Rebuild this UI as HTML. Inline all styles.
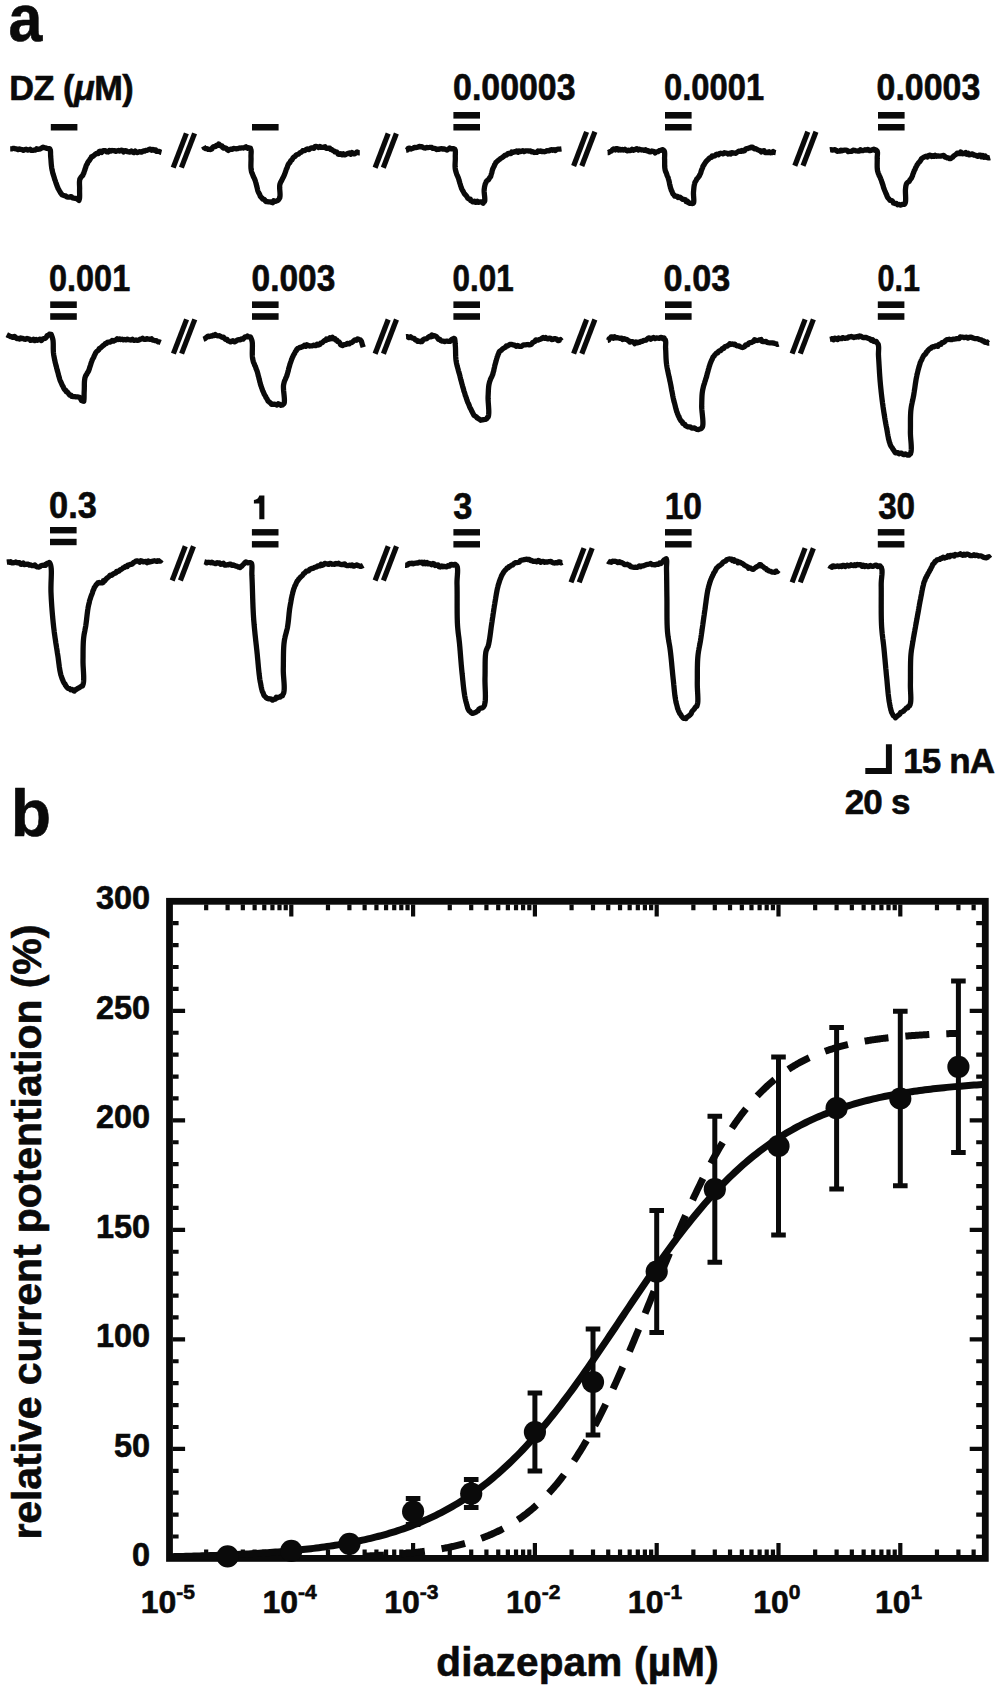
<!DOCTYPE html><html><head><meta charset="utf-8"><style>html,body{margin:0;padding:0;background:#fff;}svg{display:block;}text{font-family:"Liberation Sans",sans-serif;font-weight:bold;fill:#0a0a0a;stroke:#0a0a0a;stroke-width:0.6px;stroke-linejoin:round;}</style></head><body>
<svg width="1000" height="1691" viewBox="0 0 1000 1691">
<rect width="1000" height="1691" fill="#fff"/>
<text x="8.53" y="40.80" font-size="66" textLength="33.84" lengthAdjust="spacingAndGlyphs">a</text>
<text x="10.67" y="835.74" font-size="66">b</text>
<text x="9.17" y="99.56" font-size="34.3" textLength="124.48" lengthAdjust="spacing">DZ (<tspan font-style="italic">μ</tspan>M)</text>
<text x="453.08" y="100.06" font-size="36" textLength="122.49" lengthAdjust="spacingAndGlyphs">0.00003</text>
<text x="664.10" y="100.06" font-size="36" textLength="100.03" lengthAdjust="spacingAndGlyphs">0.0001</text>
<text x="876.62" y="100.06" font-size="36" textLength="103.63" lengthAdjust="spacingAndGlyphs">0.0003</text>
<text x="49.08" y="291.40" font-size="36" textLength="81.09" lengthAdjust="spacingAndGlyphs">0.001</text>
<text x="251.58" y="291.40" font-size="36" textLength="83.79" lengthAdjust="spacingAndGlyphs">0.003</text>
<text x="452.58" y="291.40" font-size="36" textLength="61.08" lengthAdjust="spacingAndGlyphs">0.01</text>
<text x="663.62" y="291.40" font-size="36" textLength="66.66" lengthAdjust="spacingAndGlyphs">0.03</text>
<text x="877.50" y="291.40" font-size="36" textLength="42.49" lengthAdjust="spacingAndGlyphs">0.1</text>
<text x="49.08" y="518.42" font-size="36" textLength="47.80" lengthAdjust="spacingAndGlyphs">0.3</text>
<path d="M264.4 495.6 L264.4 519.3 L259.3 519.3 L259.3 503.6 L253.9 503.6 L253.9 499.9 C256.6 499.8 258.6 498.4 259.3 495.6 Z" fill="#0a0a0a"/>
<text x="453.17" y="518.60" font-size="36" textLength="19.13" lengthAdjust="spacingAndGlyphs">3</text>
<text x="664.69" y="518.60" font-size="36" textLength="37.35" lengthAdjust="spacingAndGlyphs">10</text>
<text x="878.13" y="518.60" font-size="36" textLength="36.99" lengthAdjust="spacingAndGlyphs">30</text>
<text x="903.26" y="772.65" font-size="35" textLength="91.89" lengthAdjust="spacing">15 nA</text>
<text x="844.75" y="814.17" font-size="35" textLength="65.60" lengthAdjust="spacing">20 s</text>
<text x="436.34" y="1676.45" font-size="40.5" textLength="282.39" lengthAdjust="spacing">diazepam (µM)</text>
<path d="M10.20 148.92 L11.47 148.90 L12.86 148.45 L14.22 148.32 L15.48 148.92 L16.83 148.88 L18.08 149.69 L19.48 148.96 L20.78 149.38 L22.09 149.65 L23.39 150.30 L24.76 149.63 L26.11 149.27 L27.43 150.15 L28.78 149.91 L30.10 149.24 L31.45 150.39 L32.77 150.45 L34.05 150.05 L35.44 150.05 L36.62 148.79 L38.11 149.23 L39.50 149.22 L40.71 148.58 L41.89 147.99 L43.01 147.16 L44.19 147.68 L45.77 147.95 L47.20 148.50 L48.32 148.69 L49.62 148.58 L49.99 149.41 L50.39 150.38 L50.51 151.58 L50.56 152.92 L50.58 154.32 L50.60 155.74 L50.70 157.10 L50.82 158.34 L50.93 159.61 L51.03 160.92 L51.12 162.26 L51.22 163.61 L51.35 164.97 L51.50 166.33 L51.66 167.68 L51.92 169.00 L52.14 170.21 L52.46 171.42 L52.69 172.67 L53.03 173.89 L53.43 175.10 L53.85 176.29 L54.20 177.49 L54.55 178.66 L54.85 179.82 L55.37 180.88 L55.74 182.22 L56.16 183.51 L56.64 184.76 L57.05 186.00 L57.61 187.16 L58.00 188.37 L58.66 189.42 L59.27 190.55 L59.94 191.66 L60.52 192.79 L61.31 193.73 L61.98 194.72 L63.04 195.18 L64.27 195.57 L65.55 195.90 L66.81 196.88 L68.25 197.16 L69.71 197.06 L71.18 196.55 L72.56 197.84 L73.98 198.14 L75.25 198.35 L76.27 198.32 L77.67 199.42 L78.92 200.35 L79.33 199.15 L79.52 198.26 L79.62 197.04 L79.64 195.58 L79.62 193.98 L79.59 192.36 L79.57 190.79 L79.60 189.40 L79.62 188.10 L79.59 186.75 L79.53 185.40 L79.48 184.05 L79.46 182.73 L79.51 181.46 L79.66 180.28 L79.82 179.17 L80.46 178.08 L81.08 177.07 L81.93 176.22 L82.78 175.32 L83.21 174.05 L83.82 173.10 L84.11 171.94 L84.52 170.77 L84.99 169.58 L85.30 168.32 L85.80 167.13 L86.09 165.88 L86.59 164.75 L87.38 163.65 L87.77 162.34 L88.63 161.29 L89.50 160.27 L90.09 159.08 L91.00 158.14 L91.50 156.79 L92.78 156.40 L93.72 155.62 L94.70 154.87 L95.63 153.98 L96.72 153.32 L98.24 153.56 L98.85 151.74 L100.07 151.25 L101.66 152.46 L102.66 150.92 L103.96 150.66 L105.30 150.74 L106.67 151.77 L108.02 152.01 L109.40 150.37 L110.80 151.09 L112.18 150.48 L113.40 150.73 L114.64 150.63 L115.91 151.38 L117.19 150.83 L118.48 150.51 L119.79 151.09 L121.10 150.26 L122.40 150.38 L123.68 151.99 L124.99 150.60 L126.26 150.91 L127.48 151.62 L128.74 151.86 L130.00 152.10 L131.40 150.89 L132.59 151.91 L133.80 152.57 L135.22 151.08 L136.36 152.29 L137.58 152.67 L138.80 151.81 L139.95 151.63 L141.12 152.17 L142.34 151.69 L143.41 150.95 L144.72 151.00 L145.83 150.46 L147.05 150.28 L148.15 149.83 L149.26 149.24 L150.50 149.24 L151.61 150.19 L152.99 149.41 L154.08 150.26 L155.60 149.84 L156.43 151.39 L157.90 151.29 L159.30 151.36 L160.39 152.16 L161.50 152.43" fill="none" stroke="#0a0a0a" stroke-width="5.3" stroke-linejoin="round" stroke-linecap="butt"/>
<path d="M203.40 146.24 L204.35 147.93 L205.56 148.51 L207.07 148.53 L208.12 149.33 L209.40 149.41 L210.55 149.51 L211.79 149.09 L212.49 147.58 L213.63 146.69 L215.40 146.67 L216.32 145.50 L217.67 145.50 L218.70 144.00 L219.80 145.00 L220.66 145.82 L222.02 145.93 L222.54 147.37 L223.60 148.14 L225.26 147.99 L226.33 148.46 L227.18 149.57 L228.34 150.46 L229.68 149.50 L230.95 149.14 L232.32 149.36 L233.57 148.49 L234.99 148.61 L236.42 148.77 L237.78 148.70 L239.06 148.12 L240.35 148.01 L241.73 147.80 L243.22 147.99 L244.60 147.47 L245.95 146.82 L247.32 148.19 L248.45 147.73 L249.36 148.07 L250.41 148.08 L250.62 149.16 L251.05 150.14 L251.17 151.37 L251.14 152.74 L251.06 154.20 L250.99 155.67 L251.00 157.10 L251.04 158.23 L251.04 159.42 L251.02 160.66 L250.98 161.93 L250.94 163.21 L250.91 164.51 L250.90 165.80 L250.92 167.08 L250.99 168.33 L251.13 169.54 L251.32 170.70 L251.56 171.92 L251.98 173.07 L252.48 174.17 L252.87 175.32 L253.32 176.43 L253.84 177.52 L254.43 178.59 L254.88 179.73 L255.30 180.90 L255.63 182.08 L256.00 183.28 L256.32 184.53 L256.61 185.80 L256.95 187.06 L257.26 188.31 L257.51 189.54 L257.81 190.72 L258.25 191.80 L258.73 192.79 L259.41 193.93 L259.91 195.10 L260.33 196.29 L261.12 197.22 L262.02 198.01 L262.66 199.08 L264.07 199.34 L264.96 200.35 L265.83 201.57 L267.27 201.67 L268.54 201.90 L269.74 201.79 L271.10 202.29 L272.72 202.73 L273.74 200.79 L275.50 201.44 L276.71 200.91 L278.01 200.26 L278.94 199.20 L279.71 197.96 L279.87 197.07 L280.01 196.05 L280.05 194.88 L280.02 193.58 L279.94 192.20 L279.83 190.78 L279.72 189.35 L279.66 187.95 L279.64 186.61 L279.71 185.39 L279.88 184.30 L280.31 183.03 L280.86 181.93 L281.45 180.89 L282.02 179.82 L282.51 178.64 L283.22 177.46 L283.65 176.46 L284.17 175.40 L284.64 174.27 L285.05 173.06 L285.48 171.84 L285.93 170.60 L286.27 169.32 L286.88 168.17 L287.35 166.98 L287.70 165.77 L288.21 164.69 L288.84 163.60 L289.83 162.76 L290.28 161.58 L290.91 160.54 L291.93 159.80 L292.55 158.75 L293.18 157.70 L294.08 156.88 L295.22 156.32 L295.96 155.20 L297.07 154.49 L298.46 154.20 L299.40 153.22 L300.47 152.39 L301.76 151.94 L302.67 150.75 L304.12 150.67 L305.35 150.19 L306.36 149.39 L307.49 148.83 L309.08 149.64 L310.09 148.67 L311.18 147.84 L312.56 148.19 L313.85 148.28 L314.80 146.69 L316.02 146.49 L317.24 146.57 L318.63 147.48 L319.87 146.41 L321.16 147.37 L322.41 147.35 L323.68 147.20 L325.02 146.79 L326.05 148.30 L327.37 148.28 L328.56 148.18 L329.82 148.25 L330.63 149.36 L331.89 149.68 L332.85 150.55 L334.12 150.93 L334.99 151.94 L336.46 151.85 L337.37 152.66 L338.08 154.08 L339.25 154.32 L340.74 153.61 L341.92 154.72 L343.25 153.79 L344.55 154.90 L345.82 154.47 L347.05 153.78 L348.29 153.37 L349.52 152.83 L350.96 154.24 L352.03 152.59 L353.52 153.74 L354.85 153.75 L356.00 152.83 L357.14 151.90 L358.64 152.85 L359.80 152.85" fill="none" stroke="#0a0a0a" stroke-width="5.3" stroke-linejoin="round" stroke-linecap="butt"/>
<path d="M406.00 150.32 L407.35 150.03 L408.24 148.27 L409.45 148.05 L410.94 149.03 L412.11 148.59 L413.28 148.21 L414.36 147.34 L415.66 147.62 L416.85 147.42 L418.04 147.22 L419.17 146.35 L420.40 146.78 L421.66 146.71 L422.89 147.36 L424.09 147.96 L425.34 148.03 L426.70 147.51 L427.98 147.55 L429.28 147.46 L430.58 147.28 L431.78 147.46 L432.85 148.39 L434.04 148.28 L435.37 148.54 L436.57 149.60 L437.93 149.10 L439.18 149.30 L440.48 148.85 L441.74 148.56 L442.95 149.16 L444.18 148.85 L445.54 149.42 L447.14 150.00 L448.51 149.12 L449.79 147.96 L451.38 148.92 L452.53 148.65 L453.49 148.60 L454.12 148.94 L454.87 149.38 L455.25 150.34 L455.39 151.54 L455.39 152.89 L455.34 154.31 L455.29 155.73 L455.30 157.10 L455.33 158.34 L455.31 159.63 L455.25 160.96 L455.18 162.32 L455.11 163.68 L455.07 165.05 L455.08 166.40 L455.15 167.72 L455.28 169.00 L455.53 170.34 L455.92 171.62 L456.32 172.91 L456.71 174.20 L457.23 175.44 L457.78 176.67 L458.31 177.91 L458.73 179.19 L459.08 180.50 L459.54 181.78 L459.82 183.13 L460.30 184.41 L460.60 185.74 L461.13 186.97 L461.46 188.27 L462.04 189.43 L462.71 190.62 L463.37 191.82 L464.00 193.02 L464.76 194.14 L465.67 195.10 L466.54 196.04 L467.19 197.11 L467.81 198.29 L468.95 198.91 L470.29 199.16 L470.78 200.59 L471.89 201.11 L472.88 201.91 L474.54 201.18 L475.76 202.36 L477.30 201.28 L478.61 202.41 L479.94 201.80 L481.59 201.97 L483.10 203.29 L483.93 201.81 L484.57 201.56 L484.77 200.61 L484.81 199.42 L484.75 198.05 L484.63 196.55 L484.46 195.00 L484.31 193.45 L484.18 191.95 L484.14 190.58 L484.19 189.40 L484.41 187.87 L484.62 186.44 L485.01 185.11 L485.27 183.79 L485.98 182.64 L486.35 181.33 L487.31 180.43 L488.59 179.84 L489.12 178.51 L489.98 177.43 L490.66 176.43 L491.03 175.19 L491.38 173.87 L491.85 172.55 L492.12 171.15 L492.48 169.78 L492.95 168.49 L493.53 167.32 L494.19 166.14 L494.61 164.83 L495.37 163.71 L495.94 162.49 L496.90 161.57 L497.90 160.75 L498.76 159.86 L499.87 159.15 L500.83 158.28 L502.01 157.72 L503.06 156.91 L504.12 155.99 L505.22 155.04 L506.52 155.12 L507.35 154.17 L508.31 153.38 L509.63 153.39 L511.01 153.59 L511.78 152.05 L513.20 152.40 L514.33 151.77 L515.60 151.73 L516.68 150.91 L517.97 152.26 L519.11 150.96 L520.34 151.59 L521.59 151.29 L522.88 150.62 L524.09 151.65 L525.40 150.97 L526.67 150.87 L527.94 150.86 L529.19 151.09 L530.43 150.95 L531.69 151.90 L532.94 151.65 L534.22 152.48 L535.49 152.36 L536.77 152.44 L538.01 151.03 L539.31 151.37 L540.58 150.97 L541.90 151.52 L543.21 151.50 L544.54 151.74 L545.72 151.49 L546.85 150.59 L548.07 150.78 L549.30 150.85 L550.42 149.80 L551.64 149.73 L552.93 150.26 L554.09 149.60 L555.44 150.55 L556.57 149.56 L557.76 149.18 L559.00 149.19 L560.23 149.15 L561.50 148.99" fill="none" stroke="#0a0a0a" stroke-width="5.3" stroke-linejoin="round" stroke-linecap="butt"/>
<path d="M607.60 152.53 L608.69 152.49 L609.61 151.68 L610.79 151.33 L611.84 150.77 L612.57 149.48 L613.73 148.87 L615.32 149.87 L616.21 148.73 L617.36 148.63 L618.47 150.04 L619.73 149.20 L620.89 149.98 L622.22 149.52 L623.45 149.99 L624.84 149.30 L626.00 150.30 L627.24 150.82 L628.50 150.24 L629.73 150.61 L630.94 150.40 L632.05 149.21 L633.39 150.31 L634.57 149.87 L635.72 149.21 L636.89 148.60 L638.23 149.98 L639.39 149.22 L640.59 149.65 L641.75 149.98 L642.97 149.81 L644.12 150.37 L645.56 149.78 L646.63 150.77 L648.04 150.55 L649.06 151.70 L650.32 151.96 L651.84 150.98 L652.97 151.26 L654.05 151.54 L655.14 152.94 L656.47 151.82 L657.98 151.71 L659.20 150.69 L660.65 150.46 L661.81 149.87 L662.91 149.67 L663.64 150.28 L664.24 150.95 L664.55 152.06 L664.69 153.45 L664.68 155.01 L664.62 156.64 L664.57 158.24 L664.60 159.70 L664.66 161.06 L664.67 162.42 L664.66 163.78 L664.65 165.15 L664.69 166.51 L664.79 167.86 L665.02 169.20 L665.24 170.41 L665.64 171.58 L666.13 172.72 L666.66 173.86 L666.96 175.11 L667.42 176.30 L668.07 177.44 L668.36 178.71 L668.75 179.94 L669.09 181.23 L669.36 182.57 L669.60 183.93 L669.87 185.28 L670.24 186.57 L670.51 187.85 L670.97 188.99 L671.24 190.12 L671.97 191.42 L672.41 192.78 L673.03 194.01 L674.06 194.89 L674.66 196.21 L676.08 196.24 L677.29 196.40 L678.15 197.58 L679.65 197.12 L680.75 197.80 L681.76 198.57 L682.80 199.41 L684.23 199.42 L685.43 199.85 L686.03 201.48 L687.52 201.25 L688.31 202.66 L689.64 203.25 L691.21 203.11 L692.25 203.51 L693.11 203.42 L693.56 202.86 L693.75 201.94 L693.83 200.76 L693.80 199.39 L693.71 197.88 L693.59 196.32 L693.49 194.77 L693.45 193.31 L693.50 192.00 L693.61 190.76 L693.72 189.52 L693.83 188.30 L693.96 187.09 L694.11 185.90 L694.34 184.73 L694.65 183.60 L694.89 182.46 L695.56 181.36 L696.22 180.29 L696.67 179.05 L697.72 178.21 L698.40 177.11 L699.22 176.09 L699.75 174.87 L700.37 173.79 L700.83 172.60 L701.12 171.33 L701.53 170.10 L702.06 168.90 L702.59 167.72 L702.92 166.47 L703.58 165.39 L704.31 164.36 L704.90 163.22 L705.67 162.19 L706.44 161.16 L707.31 160.22 L708.35 159.45 L709.09 158.39 L710.11 157.68 L711.42 157.43 L712.02 155.91 L713.51 156.06 L714.78 155.83 L715.77 154.76 L716.99 154.22 L718.52 154.81 L719.60 153.56 L720.73 153.25 L721.96 153.53 L723.19 153.91 L724.37 152.78 L725.63 153.15 L726.88 153.16 L728.15 154.04 L729.38 153.30 L730.66 153.99 L731.76 152.67 L732.96 152.82 L734.38 153.13 L735.82 153.26 L737.02 152.24 L738.26 151.55 L739.52 151.05 L740.96 151.37 L742.02 150.47 L743.48 151.05 L744.60 150.68 L745.44 149.22 L746.59 148.66 L747.98 148.57 L748.93 147.88 L750.16 147.94 L751.10 147.16 L752.25 147.03 L753.28 147.67 L754.11 148.84 L755.58 148.61 L756.72 149.25 L757.88 149.87 L759.09 150.36 L760.32 150.75 L761.35 151.91 L762.82 150.81 L764.08 150.69 L765.20 152.48 L766.52 152.46 L767.83 152.71 L769.19 151.76 L770.50 152.73 L771.83 152.71 L773.19 151.48 L774.47 152.47 L775.80 152.71" fill="none" stroke="#0a0a0a" stroke-width="5.3" stroke-linejoin="round" stroke-linecap="butt"/>
<path d="M829.90 149.82 L831.14 149.62 L832.35 150.19 L833.58 149.80 L834.80 149.69 L836.00 150.34 L837.18 151.32 L838.40 151.15 L839.62 151.13 L840.88 150.19 L842.08 150.79 L843.32 150.36 L844.54 150.19 L845.77 150.09 L847.00 150.29 L848.20 151.56 L849.42 151.37 L850.64 151.31 L851.88 151.27 L853.09 150.14 L854.34 150.31 L855.60 150.83 L856.85 150.97 L858.08 151.15 L859.29 151.15 L860.44 149.68 L861.65 150.57 L862.80 150.66 L863.91 150.33 L864.98 149.72 L866.47 150.18 L867.92 149.35 L869.63 150.64 L871.11 150.34 L872.47 149.64 L873.79 149.14 L874.85 150.29 L875.90 149.93 L876.46 150.53 L877.20 151.23 L877.49 152.39 L877.49 153.78 L877.36 155.29 L877.22 156.86 L877.20 158.40 L877.23 159.56 L877.23 160.78 L877.21 162.05 L877.19 163.36 L877.17 164.68 L877.17 166.01 L877.20 167.32 L877.27 168.59 L877.41 169.83 L877.56 171.01 L877.95 172.20 L878.31 173.36 L878.81 174.44 L879.19 175.58 L879.80 176.61 L880.29 177.71 L880.68 178.87 L881.24 179.99 L881.60 181.17 L881.94 182.39 L882.46 183.59 L882.85 184.84 L883.21 186.09 L883.51 187.35 L883.94 188.55 L884.42 189.68 L884.84 190.78 L885.42 192.10 L885.89 193.41 L886.56 194.60 L886.94 195.88 L887.49 197.08 L888.15 198.20 L889.20 199.22 L890.08 200.43 L891.83 200.56 L892.79 201.58 L893.49 203.07 L894.95 203.53 L896.50 203.51 L897.65 204.76 L899.16 204.50 L900.53 205.13 L902.15 204.46 L903.39 204.30 L904.56 204.25 L904.92 203.62 L905.32 202.75 L905.54 201.61 L905.63 200.28 L905.66 198.82 L905.63 197.28 L905.58 195.70 L905.51 194.13 L905.45 192.63 L905.41 191.24 L905.42 190.02 L905.51 189.00 L905.69 187.29 L905.88 185.88 L906.27 184.44 L906.84 183.27 L907.77 182.26 L909.09 181.54 L909.80 180.18 L910.70 178.97 L911.45 178.08 L911.89 176.94 L912.52 175.82 L912.79 174.51 L913.31 173.26 L913.82 172.00 L914.24 170.70 L914.94 169.54 L915.39 168.30 L915.90 167.18 L916.59 166.11 L917.08 164.91 L917.90 163.89 L918.51 162.75 L919.56 161.93 L920.30 160.95 L920.91 159.90 L921.42 158.74 L922.43 158.16 L923.56 157.38 L924.75 156.72 L926.03 156.27 L927.59 156.97 L928.68 155.47 L930.06 155.09 L931.68 156.46 L932.71 155.72 L933.94 156.42 L935.18 155.34 L936.49 156.25 L937.84 155.85 L939.16 156.17 L940.48 156.19 L941.80 155.87 L943.11 155.32 L944.22 155.71 L945.00 157.03 L945.77 157.18 L947.06 157.75 L948.50 157.85 L949.58 158.68 L950.69 158.60 L951.60 157.77 L952.77 157.13 L953.69 155.97 L954.94 155.15 L956.18 154.34 L957.16 153.12 L958.78 153.69 L959.73 153.65 L960.74 152.02 L961.83 153.66 L962.95 153.74 L964.20 153.38 L965.61 152.53 L966.57 154.23 L968.09 153.20 L969.05 154.89 L970.43 154.64 L971.88 153.84 L973.09 154.22 L974.14 155.21 L975.35 155.27 L976.50 155.76 L977.67 156.26 L979.08 155.22 L980.37 155.04 L981.34 156.83 L982.83 155.46 L983.83 157.16 L985.28 156.04 L986.32 157.44 L987.57 157.60 L988.77 157.96 L990.10 157.59" fill="none" stroke="#0a0a0a" stroke-width="5.3" stroke-linejoin="round" stroke-linecap="butt"/>
<path d="M6.80 334.72 L7.93 335.30 L9.15 335.83 L10.31 336.51 L11.66 336.67 L12.83 337.40 L14.56 336.44 L15.66 337.50 L16.83 338.64 L18.11 338.40 L19.23 339.06 L20.68 337.90 L21.83 338.71 L23.14 338.48 L24.34 339.15 L25.61 339.34 L26.97 338.46 L28.19 338.92 L29.42 339.13 L30.55 340.34 L31.93 340.18 L33.42 339.23 L34.71 340.49 L36.17 339.43 L37.49 340.35 L38.80 339.48 L40.02 339.20 L41.46 340.53 L42.34 339.18 L43.60 338.64 L45.38 338.34 L46.50 337.05 L47.26 335.52 L48.76 335.07 L49.41 334.09 L50.12 334.19 L51.23 334.32 L51.59 335.67 L52.21 337.10 L52.65 338.71 L52.89 339.66 L53.07 340.73 L53.16 341.89 L53.22 343.14 L53.25 344.44 L53.26 345.79 L53.26 347.18 L53.27 348.58 L53.30 349.97 L53.36 351.35 L53.45 352.70 L53.61 354.00 L53.76 355.19 L53.98 356.37 L54.20 357.56 L54.43 358.75 L54.66 359.95 L54.98 361.12 L55.17 362.33 L55.55 363.49 L55.77 364.68 L56.06 365.85 L56.45 366.99 L56.67 368.17 L57.02 369.30 L57.33 370.59 L57.73 371.87 L58.07 373.16 L58.41 374.46 L58.67 375.77 L59.14 377.01 L59.44 378.28 L59.80 379.51 L60.21 380.70 L60.77 381.79 L61.24 382.88 L61.74 384.11 L62.23 385.32 L63.04 386.34 L63.42 387.56 L64.02 388.64 L64.65 389.68 L65.79 390.30 L66.03 391.64 L67.42 392.03 L68.18 393.03 L68.96 394.05 L69.74 395.10 L71.16 395.19 L71.79 396.48 L73.07 396.56 L74.55 396.67 L75.97 396.94 L77.46 396.91 L78.91 397.06 L80.14 397.81 L80.83 399.23 L81.60 400.53 L82.88 401.05 L83.21 400.80 L83.78 401.26 L83.87 400.35 L84.00 399.16 L84.06 397.72 L84.09 396.12 L84.10 394.48 L84.13 392.87 L84.20 391.40 L84.26 390.22 L84.30 388.98 L84.32 387.69 L84.33 386.38 L84.34 385.06 L84.36 383.74 L84.40 382.45 L84.48 381.19 L84.60 379.99 L84.78 378.85 L84.95 377.79 L85.41 376.52 L85.84 375.34 L86.69 374.43 L87.10 373.27 L87.79 372.21 L88.54 371.06 L88.91 369.97 L89.34 368.83 L89.66 367.59 L90.08 366.35 L90.54 365.10 L90.92 363.81 L91.31 362.55 L91.77 361.34 L92.15 360.15 L92.67 359.09 L93.38 357.96 L93.91 356.82 L94.34 355.68 L94.86 354.59 L95.40 353.51 L95.94 352.38 L96.78 351.40 L97.82 350.71 L98.69 349.85 L99.25 348.63 L100.44 348.00 L101.40 347.12 L102.35 346.22 L103.36 345.40 L104.49 344.76 L105.31 343.65 L106.59 343.45 L107.39 342.36 L108.64 342.11 L109.94 342.04 L111.07 341.50 L112.07 340.49 L113.60 341.18 L114.73 340.38 L116.00 339.99 L117.16 338.76 L118.43 339.52 L119.56 338.88 L120.82 339.57 L122.06 339.16 L123.34 339.80 L124.64 339.52 L125.94 339.83 L127.30 339.08 L128.59 339.68 L129.89 339.91 L131.17 340.13 L132.46 339.32 L133.67 340.24 L134.87 340.29 L136.01 339.94 L137.51 340.36 L138.91 340.18 L140.16 339.24 L141.47 339.09 L142.67 338.28 L144.07 339.33 L145.32 339.43 L146.58 338.59 L147.87 339.04 L149.00 339.22 L150.13 339.44 L151.50 338.76 L152.41 340.06 L153.66 340.07 L154.79 340.56 L156.07 340.55 L157.14 341.24 L158.24 341.85 L159.47 341.99 L160.70 342.50" fill="none" stroke="#0a0a0a" stroke-width="5.3" stroke-linejoin="round" stroke-linecap="butt"/>
<path d="M203.40 339.23 L204.78 338.78 L205.82 337.82 L206.94 337.02 L208.03 336.14 L209.65 336.64 L210.76 335.91 L212.09 335.99 L213.08 335.06 L214.30 335.55 L215.31 334.59 L216.69 335.64 L218.02 335.79 L219.48 335.76 L220.72 336.49 L221.99 337.25 L223.48 337.17 L224.43 338.30 L225.46 339.33 L227.05 339.47 L227.92 340.82 L229.26 341.25 L230.49 341.89 L231.80 341.12 L232.93 340.67 L234.26 341.78 L235.51 341.55 L236.60 340.66 L237.68 339.77 L238.96 339.62 L240.32 339.92 L241.34 338.90 L243.03 339.12 L244.06 338.00 L245.06 336.86 L246.53 336.92 L247.47 336.08 L248.54 336.89 L249.07 336.80 L250.22 336.79 L250.85 337.76 L251.39 338.98 L251.86 340.41 L252.08 341.26 L252.26 342.23 L252.34 343.32 L252.39 344.51 L252.40 345.78 L252.39 347.10 L252.36 348.47 L252.33 349.87 L252.30 351.29 L252.28 352.70 L252.28 354.08 L252.32 355.43 L252.40 356.73 L252.52 357.96 L252.72 359.10 L253.03 360.40 L253.30 361.67 L253.73 362.86 L254.32 363.96 L254.61 365.17 L255.28 366.22 L255.69 367.39 L256.03 368.60 L256.55 369.77 L257.03 370.99 L257.36 372.11 L257.69 373.27 L258.04 374.45 L258.25 375.68 L258.66 376.87 L258.93 378.11 L259.20 379.35 L259.55 380.56 L259.80 381.79 L260.21 382.95 L260.44 384.13 L260.78 385.25 L261.17 386.31 L261.56 387.57 L262.08 388.76 L262.43 389.98 L262.88 391.13 L263.40 392.24 L263.89 393.33 L264.33 394.45 L264.96 395.45 L265.66 396.41 L266.04 397.66 L266.88 398.69 L267.48 399.88 L268.05 401.08 L269.11 401.86 L270.01 402.61 L270.79 403.31 L271.35 404.32 L272.70 404.34 L274.02 404.19 L275.45 404.40 L276.94 405.05 L278.21 403.76 L279.70 404.21 L281.09 405.31 L282.56 404.89 L283.44 403.98 L283.95 403.66 L284.21 402.92 L284.35 401.99 L284.42 400.91 L284.41 399.69 L284.35 398.36 L284.24 396.95 L284.11 395.48 L283.96 393.97 L283.80 392.46 L283.65 390.96 L283.54 389.51 L283.46 388.12 L283.43 386.82 L283.48 385.64 L283.62 384.60 L283.96 383.22 L284.25 381.96 L284.61 380.79 L285.19 379.74 L285.59 378.59 L286.11 377.40 L286.75 376.12 L286.97 375.04 L287.38 373.95 L287.66 372.77 L288.05 371.56 L288.37 370.30 L288.61 368.98 L288.97 367.68 L289.41 366.40 L289.73 365.09 L290.08 363.80 L290.53 362.57 L290.96 361.37 L291.34 360.19 L291.79 359.10 L292.26 357.78 L292.92 356.54 L293.44 355.24 L294.22 354.08 L294.86 352.88 L295.35 351.63 L296.28 350.71 L296.73 349.50 L297.50 348.58 L298.70 348.23 L299.64 347.36 L301.04 347.45 L302.07 346.69 L303.33 346.52 L304.41 345.30 L305.91 346.30 L306.99 344.78 L308.34 345.54 L309.58 346.00 L310.81 345.97 L312.08 345.95 L313.36 345.14 L314.69 345.50 L316.06 345.49 L317.14 344.12 L318.66 344.96 L319.83 344.33 L320.72 343.10 L322.16 342.78 L323.16 341.65 L324.26 340.70 L325.76 340.44 L326.49 338.99 L328.11 339.28 L329.26 339.09 L329.89 337.71 L330.93 338.69 L332.44 337.24 L333.38 338.85 L334.91 338.62 L335.68 340.10 L336.99 340.25 L337.62 341.49 L339.09 342.08 L340.02 343.16 L340.52 344.61 L341.65 345.27 L342.79 345.56 L343.82 344.68 L344.93 344.69 L346.24 344.49 L347.26 343.45 L349.14 343.88 L350.23 342.97 L351.56 342.74 L352.67 341.89 L353.77 340.80 L354.95 339.83 L356.63 340.24 L357.60 338.87 L358.85 339.48 L359.82 339.55 L360.65 340.29 L361.41 341.35 L361.87 342.76 L362.24 344.30 L362.77 345.79 L363.20 347.25" fill="none" stroke="#0a0a0a" stroke-width="5.3" stroke-linejoin="round" stroke-linecap="butt"/>
<path d="M406.00 336.68 L407.53 336.55 L408.89 337.57 L410.54 336.79 L411.88 337.95 L413.07 338.23 L414.39 338.65 L415.21 339.92 L416.66 340.25 L417.50 341.34 L418.76 341.25 L419.57 341.36 L420.77 341.73 L422.20 341.54 L422.85 340.00 L424.08 339.17 L425.59 338.85 L427.01 338.60 L428.04 337.43 L429.23 336.50 L430.88 336.76 L431.79 334.89 L433.14 336.24 L434.42 335.58 L435.63 336.09 L436.71 336.93 L437.65 337.99 L438.37 339.32 L439.90 339.47 L440.75 340.51 L442.00 341.08 L443.44 341.08 L444.70 341.70 L446.12 341.07 L447.29 341.12 L448.37 341.32 L449.90 341.45 L451.00 340.22 L452.11 339.10 L453.33 338.63 L454.12 338.33 L454.65 338.88 L454.85 339.86 L455.03 341.10 L455.12 342.52 L455.19 344.03 L455.30 345.50 L455.39 346.57 L455.47 347.72 L455.51 348.94 L455.55 350.21 L455.57 351.52 L455.59 352.85 L455.62 354.21 L455.67 355.56 L455.73 356.92 L455.82 358.25 L455.93 359.55 L456.09 360.80 L456.31 362.07 L456.52 363.31 L456.83 364.52 L457.09 365.74 L457.41 366.93 L457.74 368.13 L458.10 369.34 L458.40 370.58 L458.74 371.83 L459.15 373.09 L459.48 374.40 L459.83 375.48 L460.05 376.62 L460.35 377.77 L460.62 378.96 L460.94 380.14 L461.31 381.33 L461.62 382.55 L461.90 383.77 L462.30 384.97 L462.58 386.19 L462.94 387.38 L463.29 388.57 L463.63 389.73 L463.88 390.91 L464.31 392.00 L464.64 393.09 L465.02 394.32 L465.34 395.56 L465.88 396.71 L466.23 397.91 L466.62 399.08 L466.98 400.26 L467.41 401.38 L467.83 402.50 L468.40 403.53 L468.81 404.62 L469.28 405.66 L469.59 406.75 L470.16 408.07 L470.96 409.29 L471.54 410.59 L472.13 411.85 L472.76 413.03 L473.33 414.20 L473.98 415.25 L474.95 415.95 L476.22 416.69 L477.10 417.88 L478.35 418.51 L479.49 419.31 L480.68 420.29 L482.18 419.95 L483.70 419.59 L485.24 419.47 L486.65 418.91 L487.33 417.54 L488.13 417.21 L488.35 416.34 L488.56 415.38 L488.69 414.29 L488.77 413.10 L488.80 411.81 L488.78 410.45 L488.72 409.03 L488.63 407.57 L488.53 406.09 L488.42 404.60 L488.31 403.13 L488.21 401.68 L488.13 400.27 L488.08 398.93 L488.07 397.67 L488.10 396.50 L488.17 395.14 L488.23 393.79 L488.29 392.47 L488.35 391.18 L488.41 389.91 L488.49 388.67 L488.59 387.46 L488.72 386.27 L488.86 385.11 L489.09 384.00 L489.35 382.91 L489.67 381.58 L490.13 380.36 L490.52 379.16 L491.05 378.02 L491.66 376.90 L492.17 375.69 L492.76 374.42 L492.99 373.27 L493.30 372.09 L493.70 370.89 L493.94 369.61 L494.20 368.32 L494.51 367.02 L494.76 365.72 L495.10 364.44 L495.46 363.20 L495.79 361.98 L496.13 360.81 L496.46 359.55 L496.85 358.31 L497.19 357.07 L497.67 355.89 L498.04 354.70 L498.57 353.60 L498.96 352.47 L499.48 351.42 L500.48 350.75 L501.46 350.04 L502.32 349.19 L503.31 348.45 L504.39 347.82 L505.46 347.16 L506.30 345.93 L507.64 345.89 L508.74 345.26 L509.88 344.43 L511.20 344.30 L512.52 344.76 L513.83 344.79 L515.08 345.67 L516.36 346.25 L517.72 345.41 L519.01 346.29 L520.31 346.35 L521.62 346.28 L522.94 345.20 L524.25 344.92 L525.53 344.86 L526.77 344.69 L527.94 344.52 L529.27 344.89 L530.70 344.66 L531.81 343.79 L532.64 342.63 L533.82 341.96 L535.02 341.38 L535.73 339.86 L537.23 340.13 L538.55 340.03 L539.68 339.43 L540.89 339.01 L542.01 338.25 L543.18 337.49 L544.54 338.42 L545.71 337.57 L546.87 338.48 L548.01 338.93 L549.38 338.14 L550.60 338.39 L551.65 339.56 L552.94 339.39 L554.30 338.61 L555.54 338.73 L556.75 338.98 L557.74 340.48 L558.98 340.52 L560.39 339.59 L561.50 340.99" fill="none" stroke="#0a0a0a" stroke-width="5.3" stroke-linejoin="round" stroke-linecap="butt"/>
<path d="M607.60 340.41 L608.75 340.21 L609.08 338.76 L610.38 338.30 L611.17 336.89 L612.31 336.86 L613.45 338.16 L614.72 336.83 L615.92 337.77 L617.32 337.70 L618.71 337.99 L620.09 338.38 L621.58 338.19 L622.67 339.55 L624.16 338.63 L625.30 339.25 L626.63 339.38 L627.71 340.21 L628.84 340.89 L629.79 342.09 L631.29 341.72 L632.62 341.65 L633.75 342.15 L634.80 343.62 L636.09 342.01 L637.34 342.91 L638.45 342.26 L639.78 342.36 L640.80 341.44 L642.19 341.45 L643.27 340.66 L644.56 340.35 L645.91 340.23 L646.95 339.33 L648.00 338.25 L649.27 337.85 L650.78 339.20 L652.03 338.21 L653.41 337.51 L655.02 338.68 L656.44 337.91 L657.90 338.10 L659.29 338.35 L660.67 337.35 L661.90 337.63 L662.77 338.72 L664.11 338.04 L664.43 339.16 L665.38 339.85 L665.59 341.06 L665.73 342.39 L665.70 343.85 L665.62 345.39 L665.56 346.95 L665.60 348.50 L665.68 349.64 L665.75 350.81 L665.80 352.01 L665.84 353.24 L665.89 354.50 L665.93 355.78 L665.98 357.08 L666.04 358.39 L666.12 359.71 L666.23 361.04 L666.35 362.37 L666.51 363.70 L666.66 364.83 L666.84 365.98 L667.01 367.14 L667.22 368.32 L667.49 369.49 L667.72 370.68 L667.98 371.87 L668.20 373.08 L668.44 374.29 L668.77 375.48 L668.99 376.70 L669.30 377.90 L669.58 379.10 L669.78 380.32 L670.07 381.51 L670.32 382.70 L670.54 383.89 L670.78 385.09 L671.00 386.30 L671.22 387.50 L671.44 388.72 L671.65 389.93 L671.89 391.14 L672.13 392.34 L672.35 393.55 L672.59 394.74 L672.80 395.94 L673.05 397.11 L673.27 398.29 L673.55 399.44 L673.80 400.58 L674.05 401.71 L674.46 402.94 L674.78 404.18 L675.09 405.44 L675.38 406.69 L675.68 407.93 L676.00 409.15 L676.40 410.34 L676.67 411.55 L677.21 412.64 L677.46 413.82 L678.03 414.84 L678.30 415.96 L679.06 416.82 L679.34 418.14 L680.05 419.22 L680.62 420.39 L681.50 421.31 L682.45 422.13 L682.76 423.43 L683.87 424.01 L684.93 424.50 L685.43 425.60 L686.66 426.24 L687.89 426.82 L689.32 426.81 L690.61 427.12 L691.74 428.18 L693.12 428.22 L694.47 427.91 L695.71 428.72 L697.02 429.46 L698.42 429.59 L699.69 429.11 L700.74 428.74 L701.61 428.19 L702.00 427.70 L702.37 427.05 L702.65 426.23 L702.81 425.27 L702.91 424.20 L702.94 423.03 L702.92 421.78 L702.86 420.46 L702.77 419.08 L702.64 417.66 L702.50 416.22 L702.36 414.77 L702.21 413.32 L702.06 411.89 L701.93 410.49 L701.81 409.14 L701.73 407.85 L701.69 406.63 L701.70 405.50 L701.74 404.12 L701.77 402.77 L701.79 401.45 L701.82 400.16 L701.86 398.88 L701.90 397.63 L701.96 396.39 L702.03 395.16 L702.13 393.94 L702.26 392.72 L702.43 391.51 L702.59 390.30 L702.87 389.05 L703.15 387.82 L703.43 386.59 L703.79 385.38 L704.20 384.20 L704.56 382.99 L704.86 381.78 L705.34 380.61 L705.62 379.39 L706.02 378.20 L706.46 377.02 L706.78 375.79 L707.05 374.52 L707.38 373.26 L707.74 372.00 L708.10 370.74 L708.41 369.48 L708.79 368.25 L709.11 367.05 L709.49 365.89 L709.83 364.76 L710.17 363.69 L710.66 362.46 L711.14 361.30 L711.63 360.20 L712.23 359.18 L712.58 358.04 L713.09 356.95 L714.12 356.20 L714.63 355.06 L715.56 354.25 L716.27 353.16 L717.71 352.89 L718.33 351.62 L719.37 350.84 L720.77 350.55 L721.60 349.50 L722.42 348.57 L723.84 348.33 L724.53 347.12 L725.53 346.29 L727.01 346.19 L727.95 345.39 L729.01 344.83 L729.85 343.67 L731.17 344.35 L732.28 343.94 L733.38 344.53 L734.83 344.19 L735.87 345.29 L737.14 345.85 L738.67 345.78 L739.84 346.61 L741.16 347.10 L742.58 347.48 L743.78 347.06 L744.86 346.39 L745.56 345.01 L746.99 344.94 L748.15 344.31 L748.86 342.94 L750.24 342.57 L751.63 342.30 L752.76 341.73 L753.86 341.27 L754.51 339.62 L755.83 340.19 L757.10 340.54 L758.34 340.19 L759.67 339.75 L761.06 339.52 L761.98 341.29 L763.26 341.52 L764.61 341.53 L765.99 341.39 L767.08 342.45 L768.35 342.70 L769.65 342.84 L770.97 342.93 L772.35 342.79 L773.62 343.07 L774.86 343.50 L776.14 343.78 L777.33 344.42 L778.60 344.01" fill="none" stroke="#0a0a0a" stroke-width="5.3" stroke-linejoin="round" stroke-linecap="butt"/>
<path d="M829.90 339.33 L831.17 339.08 L832.41 338.57 L833.75 339.78 L834.90 338.15 L836.23 338.94 L837.57 339.55 L838.77 337.99 L840.20 338.72 L841.62 338.71 L842.61 337.58 L843.83 338.03 L845.11 338.44 L846.28 337.82 L847.61 338.10 L848.74 336.92 L850.05 336.87 L851.30 336.46 L852.67 336.98 L854.01 337.57 L855.17 336.86 L856.37 337.10 L857.48 336.35 L858.57 337.00 L859.66 335.89 L861.11 336.38 L862.36 337.27 L863.61 337.64 L864.98 337.49 L866.36 337.38 L867.49 338.09 L868.76 338.46 L869.91 338.98 L870.90 340.20 L872.50 339.70 L873.38 341.17 L874.56 341.64 L876.21 341.32 L876.93 342.44 L877.60 343.40 L878.20 344.27 L878.40 345.33 L878.57 346.44 L878.65 347.64 L878.64 348.90 L878.59 350.23 L878.52 351.62 L878.46 353.05 L878.44 354.51 L878.50 356.00 L878.57 357.02 L878.64 358.08 L878.71 359.18 L878.78 360.32 L878.85 361.49 L878.92 362.68 L878.99 363.91 L879.07 365.15 L879.14 366.42 L879.22 367.70 L879.29 368.99 L879.38 370.29 L879.45 371.59 L879.53 372.90 L879.63 374.20 L879.71 375.50 L879.80 376.80 L879.90 378.07 L879.99 379.34 L880.09 380.58 L880.19 381.80 L880.31 383.00 L880.41 384.27 L880.53 385.54 L880.66 386.80 L880.78 388.06 L880.92 389.31 L881.05 390.55 L881.17 391.79 L881.31 393.03 L881.45 394.26 L881.60 395.48 L881.74 396.71 L881.88 397.93 L882.03 399.14 L882.19 400.36 L882.35 401.57 L882.49 402.78 L882.66 403.99 L882.85 405.19 L882.99 406.40 L883.18 407.63 L883.36 408.86 L883.55 410.09 L883.73 411.32 L883.92 412.56 L884.12 413.79 L884.30 415.02 L884.52 416.24 L884.69 417.46 L884.93 418.67 L885.10 419.88 L885.31 421.07 L885.53 422.26 L885.73 423.44 L885.97 424.59 L886.16 425.75 L886.39 426.88 L886.62 428.00 L886.83 429.35 L887.10 430.69 L887.33 432.03 L887.53 433.38 L887.78 434.70 L888.00 436.01 L888.27 437.28 L888.48 438.55 L888.81 439.76 L889.15 440.93 L889.35 442.11 L889.86 443.15 L890.09 444.25 L890.61 445.50 L891.28 446.66 L892.10 447.69 L892.76 448.77 L893.40 449.79 L894.05 450.76 L894.69 451.70 L895.28 452.78 L896.76 452.71 L897.99 452.76 L899.03 453.73 L900.39 453.18 L901.65 453.23 L902.79 454.20 L903.99 454.64 L905.51 453.83 L906.72 454.70 L907.99 455.21 L909.23 455.05 L909.92 454.00 L910.57 453.65 L910.67 452.84 L910.99 452.01 L911.15 451.02 L911.25 449.92 L911.30 448.71 L911.29 447.42 L911.25 446.05 L911.18 444.62 L911.08 443.15 L910.97 441.64 L910.84 440.13 L910.72 438.62 L910.60 437.12 L910.51 435.66 L910.44 434.24 L910.40 432.88 L910.40 431.60 L910.42 430.38 L910.43 429.16 L910.44 427.92 L910.45 426.68 L910.45 425.44 L910.45 424.20 L910.45 422.96 L910.45 421.72 L910.45 420.49 L910.46 419.27 L910.48 418.05 L910.50 416.85 L910.54 415.66 L910.58 414.49 L910.64 413.33 L910.71 412.20 L910.79 411.09 L910.90 410.00 L911.06 408.70 L911.21 407.45 L911.43 406.26 L911.64 405.08 L911.87 403.93 L912.12 402.79 L912.32 401.65 L912.62 400.51 L912.85 399.33 L913.14 398.14 L913.34 396.89 L913.62 395.60 L913.80 394.50 L913.98 393.37 L914.17 392.20 L914.32 391.00 L914.52 389.79 L914.71 388.55 L914.89 387.31 L915.06 386.05 L915.24 384.78 L915.43 383.52 L915.64 382.27 L915.83 381.02 L916.02 379.78 L916.25 378.57 L916.48 377.38 L916.71 376.22 L916.91 375.08 L917.22 374.01 L917.50 372.67 L917.85 371.39 L918.08 370.09 L918.49 368.86 L918.78 367.62 L919.17 366.43 L919.53 365.24 L919.90 364.07 L920.17 362.88 L920.66 361.77 L921.10 360.65 L921.79 359.65 L922.17 358.43 L922.80 357.31 L923.40 356.17 L924.08 355.06 L925.19 354.25 L925.97 353.26 L926.42 352.03 L927.44 351.29 L928.09 350.27 L928.96 349.52 L929.71 348.68 L930.93 348.27 L931.78 347.21 L932.96 346.76 L934.27 346.79 L935.30 345.94 L936.57 345.97 L937.98 346.32 L938.49 344.59 L939.60 344.15 L941.09 344.24 L941.55 342.81 L942.66 342.30 L944.07 342.25 L944.94 341.38 L945.83 340.32 L946.82 339.62 L948.05 339.53 L949.22 339.20 L950.61 339.67 L951.87 339.68 L953.02 339.11 L954.31 339.08 L955.59 338.93 L956.88 338.66 L958.01 338.61 L959.18 338.58 L960.26 336.93 L961.52 337.24 L962.78 337.05 L964.07 337.65 L965.35 337.43 L966.65 337.18 L967.91 338.11 L969.23 337.39 L970.55 337.16 L971.81 337.43 L973.01 337.93 L974.13 338.40 L975.31 338.60 L976.53 338.70 L977.81 338.65 L978.87 339.38 L980.07 339.67 L981.31 339.87 L982.26 340.86 L983.61 340.79 L984.46 342.01 L985.65 342.38 L987.09 342.04 L987.98 343.19 L989.20 343.11" fill="none" stroke="#0a0a0a" stroke-width="5.3" stroke-linejoin="round" stroke-linecap="butt"/>
<path d="M6.80 562.03 L8.07 561.87 L9.31 562.23 L10.60 561.65 L11.77 562.82 L13.03 562.93 L14.33 562.74 L15.72 561.99 L17.00 562.79 L18.21 562.61 L19.44 562.66 L20.46 564.07 L21.69 564.36 L23.24 562.96 L24.26 564.59 L25.61 564.38 L26.94 564.22 L28.21 564.26 L29.34 565.13 L30.61 564.92 L31.92 565.53 L33.32 565.72 L34.87 565.06 L36.07 566.39 L37.40 566.98 L38.77 567.12 L40.12 566.57 L41.29 565.53 L42.30 565.38 L43.60 565.25 L45.44 565.44 L46.24 563.90 L47.42 563.15 L48.69 563.41 L49.42 562.51 L50.12 563.59 L50.63 565.07 L51.03 567.00 L51.12 567.74 L51.21 568.57 L51.28 569.47 L51.32 570.45 L51.34 571.49 L51.35 572.60 L51.34 573.76 L51.32 574.97 L51.28 576.22 L51.24 577.51 L51.20 578.83 L51.15 580.18 L51.10 581.55 L51.05 582.93 L51.01 584.32 L50.98 585.71 L50.95 587.10 L50.94 588.48 L50.94 589.84 L50.96 591.18 L51.00 592.50 L51.05 593.64 L51.10 594.79 L51.15 595.95 L51.21 597.13 L51.27 598.32 L51.34 599.52 L51.41 600.73 L51.48 601.95 L51.56 603.17 L51.64 604.40 L51.72 605.64 L51.81 606.88 L51.91 608.13 L52.00 609.38 L52.10 610.63 L52.20 611.88 L52.30 613.12 L52.41 614.37 L52.52 615.61 L52.64 616.85 L52.74 618.09 L52.86 619.32 L52.98 620.54 L53.09 621.75 L53.22 622.96 L53.35 624.15 L53.47 625.33 L53.59 626.50 L53.74 627.76 L53.89 629.01 L54.06 630.26 L54.20 631.52 L54.37 632.77 L54.54 634.02 L54.71 635.26 L54.88 636.50 L55.05 637.74 L55.24 638.97 L55.43 640.20 L55.61 641.42 L55.77 642.64 L55.98 643.84 L56.18 645.04 L56.37 646.23 L56.53 647.42 L56.74 648.59 L56.92 649.75 L57.11 650.90 L57.27 652.05 L57.43 653.18 L57.63 654.29 L57.80 655.40 L58.00 656.71 L58.18 658.01 L58.36 659.31 L58.52 660.61 L58.68 661.90 L58.84 663.17 L59.01 664.44 L59.17 665.69 L59.33 666.92 L59.54 668.12 L59.72 669.31 L59.91 670.47 L60.12 671.60 L60.35 672.71 L60.61 673.77 L60.85 674.82 L61.20 675.80 L61.60 677.17 L62.03 678.49 L62.63 679.71 L63.04 680.97 L63.62 682.11 L64.13 683.25 L65.11 684.05 L65.36 685.30 L66.14 686.15 L67.00 687.34 L68.05 688.39 L69.68 688.62 L70.61 689.76 L72.10 689.49 L73.08 690.47 L74.35 691.00 L75.31 689.50 L76.59 689.32 L77.58 688.43 L78.74 687.98 L79.70 687.40 L80.88 686.48 L82.44 685.98 L83.11 684.35 L83.23 683.57 L83.42 682.73 L83.55 681.78 L83.63 680.74 L83.68 679.61 L83.70 678.40 L83.69 677.13 L83.66 675.81 L83.60 674.44 L83.54 673.03 L83.46 671.60 L83.37 670.16 L83.29 668.71 L83.21 667.27 L83.13 665.84 L83.07 664.44 L83.02 663.08 L83.00 661.76 L83.00 660.50 L83.01 659.24 L83.03 657.98 L83.04 656.71 L83.04 655.43 L83.05 654.15 L83.06 652.87 L83.07 651.59 L83.08 650.32 L83.10 649.06 L83.12 647.80 L83.15 646.56 L83.19 645.33 L83.23 644.12 L83.28 642.93 L83.34 641.76 L83.42 640.61 L83.50 639.49 L83.60 638.40 L83.75 637.04 L83.93 635.75 L84.11 634.50 L84.34 633.30 L84.57 632.12 L84.81 630.95 L85.02 629.77 L85.21 628.57 L85.49 627.36 L85.71 626.11 L85.88 624.80 L86.06 623.63 L86.22 622.42 L86.39 621.18 L86.54 619.91 L86.67 618.63 L86.82 617.32 L86.96 616.02 L87.11 614.71 L87.28 613.41 L87.45 612.12 L87.59 610.85 L87.79 609.61 L88.00 608.40 L88.16 607.22 L88.41 606.10 L88.68 604.79 L89.01 603.52 L89.31 602.28 L89.52 601.05 L89.86 599.88 L90.29 598.74 L90.61 597.59 L90.98 596.45 L91.44 595.35 L91.86 594.22 L92.37 593.00 L92.72 591.66 L93.16 590.33 L93.84 589.10 L94.21 587.78 L94.95 586.69 L95.71 585.73 L96.14 584.68 L96.97 584.09 L97.88 582.86 L99.20 582.46 L100.69 582.97 L102.23 582.79 L103.22 582.28 L103.43 580.70 L104.94 580.73 L105.58 579.60 L106.41 578.64 L107.40 577.83 L108.50 577.13 L109.36 576.12 L110.25 575.15 L111.74 575.24 L112.64 574.43 L113.61 573.70 L114.75 573.21 L116.01 572.91 L116.57 571.33 L118.11 571.51 L119.23 570.90 L120.04 569.71 L121.31 569.37 L122.37 568.65 L123.29 567.73 L124.55 567.39 L125.47 566.41 L127.12 566.64 L127.74 565.12 L129.17 565.00 L130.27 564.31 L131.67 564.26 L132.70 563.51 L133.60 562.42 L134.77 562.03 L135.83 561.15 L137.10 560.89 L138.42 561.21 L139.69 562.31 L140.96 560.71 L142.22 561.00 L143.42 561.92 L144.71 561.53 L145.98 561.30 L147.15 562.73 L148.39 561.12 L149.61 562.08 L150.81 561.67 L152.00 561.39 L153.16 560.98 L154.33 560.75 L155.58 560.99 L156.85 561.40 L157.95 560.71 L159.21 561.05 L160.42 561.04 L161.50 559.61" fill="none" stroke="#0a0a0a" stroke-width="5.3" stroke-linejoin="round" stroke-linecap="butt"/>
<path d="M204.30 561.81 L205.56 562.14 L206.75 562.93 L208.10 562.25 L209.36 562.46 L210.61 562.74 L211.95 562.17 L213.16 562.88 L214.41 563.23 L215.65 563.67 L217.08 562.58 L218.27 563.10 L219.56 562.86 L220.68 564.27 L221.98 564.21 L223.39 563.20 L224.47 565.01 L225.72 565.13 L227.03 564.75 L228.25 564.84 L229.55 564.22 L230.76 564.17 L231.87 565.32 L233.36 564.96 L234.54 565.58 L235.72 566.05 L236.96 566.03 L237.91 566.98 L238.98 567.01 L240.16 567.54 L241.13 566.51 L242.22 565.73 L243.07 564.61 L244.10 563.68 L244.89 562.68 L245.78 561.86 L247.35 562.79 L248.59 562.74 L249.78 562.61 L250.86 562.91 L251.50 563.37 L251.77 564.24 L251.92 565.27 L251.99 566.44 L252.00 567.75 L251.96 569.16 L251.90 570.67 L251.86 572.24 L251.85 573.86 L251.90 575.50 L251.95 576.38 L251.99 577.30 L252.03 578.27 L252.08 579.27 L252.12 580.31 L252.16 581.38 L252.20 582.49 L252.24 583.62 L252.28 584.78 L252.32 585.97 L252.35 587.18 L252.39 588.42 L252.43 589.67 L252.47 590.94 L252.51 592.23 L252.55 593.53 L252.59 594.84 L252.63 596.16 L252.67 597.49 L252.71 598.82 L252.76 600.15 L252.80 601.49 L252.85 602.82 L252.90 604.16 L252.95 605.48 L253.00 606.80 L253.06 608.11 L253.12 609.41 L253.18 610.69 L253.24 611.96 L253.30 613.22 L253.37 614.45 L253.45 615.66 L253.52 616.84 L253.60 618.00 L253.69 619.28 L253.78 620.55 L253.89 621.82 L254.00 623.08 L254.09 624.33 L254.21 625.57 L254.32 626.81 L254.43 628.05 L254.56 629.28 L254.68 630.50 L254.81 631.72 L254.93 632.94 L255.05 634.15 L255.18 635.35 L255.30 636.56 L255.44 637.76 L255.57 638.96 L255.69 640.15 L255.83 641.34 L255.96 642.53 L256.09 643.72 L256.23 644.90 L256.37 646.09 L256.48 647.27 L256.61 648.45 L256.75 649.64 L256.88 650.82 L257.00 652.00 L257.12 653.27 L257.26 654.55 L257.38 655.84 L257.50 657.14 L257.63 658.46 L257.75 659.77 L257.88 661.09 L258.00 662.42 L258.11 663.74 L258.24 665.05 L258.35 666.36 L258.48 667.66 L258.60 668.95 L258.73 670.22 L258.86 671.48 L259.00 672.72 L259.12 673.94 L259.28 675.13 L259.42 676.29 L259.56 677.43 L259.71 678.54 L259.87 679.61 L260.06 680.65 L260.20 681.65 L260.42 682.60 L260.71 684.05 L260.96 685.45 L261.21 686.79 L261.51 688.06 L261.79 689.29 L262.09 690.45 L262.41 691.57 L262.91 692.56 L263.32 693.56 L263.63 694.61 L264.35 695.85 L265.41 696.83 L266.36 697.87 L267.47 698.65 L268.84 698.73 L269.86 698.81 L270.94 698.83 L272.53 700.13 L273.86 699.30 L275.42 699.11 L276.24 697.19 L277.73 697.73 L278.86 697.13 L280.19 697.08 L281.06 696.02 L282.50 695.84 L282.79 694.36 L283.36 693.83 L283.66 693.06 L283.87 692.18 L284.02 691.21 L284.13 690.17 L284.19 689.06 L284.22 687.88 L284.21 686.64 L284.18 685.36 L284.12 684.04 L284.04 682.68 L283.94 681.29 L283.84 679.89 L283.73 678.48 L283.62 677.07 L283.52 675.67 L283.43 674.27 L283.36 672.90 L283.31 671.56 L283.29 670.26 L283.30 669.00 L283.32 667.77 L283.34 666.53 L283.36 665.27 L283.37 664.00 L283.38 662.72 L283.39 661.43 L283.40 660.13 L283.41 658.84 L283.42 657.54 L283.44 656.24 L283.46 654.95 L283.48 653.67 L283.51 652.40 L283.55 651.14 L283.59 649.89 L283.64 648.66 L283.71 647.46 L283.78 646.27 L283.86 645.11 L283.96 643.97 L284.07 642.87 L284.21 641.80 L284.38 640.48 L284.59 639.21 L284.88 638.01 L285.12 636.83 L285.38 635.68 L285.72 634.58 L285.95 633.45 L286.29 632.35 L286.53 631.22 L286.84 630.09 L287.14 628.94 L287.40 627.75 L287.62 626.50 L287.78 625.38 L287.95 624.23 L288.10 623.07 L288.24 621.89 L288.38 620.69 L288.52 619.48 L288.64 618.27 L288.76 617.04 L288.89 615.81 L289.00 614.58 L289.12 613.34 L289.26 612.12 L289.40 610.89 L289.55 609.67 L289.72 608.47 L289.91 607.28 L290.10 606.10 L290.32 604.81 L290.57 603.51 L290.81 602.20 L291.02 600.88 L291.24 599.55 L291.48 598.24 L291.80 596.94 L292.01 595.64 L292.35 594.38 L292.64 593.13 L292.92 591.90 L293.32 590.73 L293.55 589.54 L293.94 588.44 L294.39 587.40 L294.82 586.03 L295.60 584.85 L296.01 583.55 L296.57 582.35 L297.16 581.19 L298.09 580.26 L298.72 579.16 L299.57 578.23 L300.39 577.28 L301.30 576.49 L302.24 575.77 L302.94 574.80 L303.52 573.63 L304.65 573.13 L305.43 572.12 L306.32 571.24 L307.69 571.04 L308.95 570.64 L309.58 569.44 L310.68 568.96 L311.81 568.46 L313.14 568.34 L314.17 567.56 L315.38 567.15 L316.64 566.85 L317.62 565.85 L319.02 566.01 L320.26 565.80 L321.05 564.15 L322.57 565.22 L323.69 564.61 L324.74 563.38 L326.06 563.77 L327.32 563.96 L328.59 564.38 L329.78 563.37 L331.03 563.69 L332.28 564.24 L333.52 564.10 L334.75 564.38 L336.00 563.53 L337.22 563.91 L338.51 563.19 L339.67 564.22 L340.88 564.51 L342.15 564.34 L343.37 564.63 L344.72 563.91 L345.80 565.27 L347.02 565.57 L348.27 565.72 L349.59 565.07 L350.79 565.63 L352.10 564.91 L353.24 566.07 L354.49 566.08 L355.80 565.29 L357.08 564.92 L358.26 565.67 L359.48 565.97 L360.69 566.46 L361.97 566.07 L363.20 565.35" fill="none" stroke="#0a0a0a" stroke-width="5.3" stroke-linejoin="round" stroke-linecap="butt"/>
<path d="M405.10 565.25 L406.34 565.29 L407.52 565.00 L408.44 563.84 L409.54 563.31 L410.86 563.59 L411.99 563.13 L413.37 563.77 L414.53 563.35 L415.74 563.04 L417.01 562.85 L418.13 563.00 L419.31 562.08 L420.52 562.65 L421.80 562.22 L422.96 563.65 L424.38 562.27 L425.51 563.76 L426.96 562.62 L428.08 563.87 L429.42 563.45 L430.62 563.76 L431.68 564.71 L433.06 563.48 L434.14 563.75 L435.24 565.48 L436.72 565.17 L438.19 564.91 L438.98 566.71 L440.23 567.04 L441.80 566.00 L442.92 566.75 L444.21 566.34 L445.35 566.60 L446.72 566.87 L447.84 565.75 L449.47 566.12 L450.48 564.66 L451.86 564.41 L453.33 565.18 L454.34 564.33 L455.34 564.48 L456.03 565.09 L456.63 565.55 L457.04 566.27 L457.34 567.14 L457.47 568.16 L457.57 569.29 L457.61 570.53 L457.58 571.86 L457.52 573.27 L457.42 574.73 L457.31 576.25 L457.20 577.79 L457.10 579.36 L457.02 580.92 L456.99 582.47 L457.00 584.00 L457.03 584.99 L457.05 586.02 L457.07 587.09 L457.09 588.19 L457.10 589.32 L457.11 590.48 L457.12 591.66 L457.12 592.87 L457.13 594.10 L457.13 595.35 L457.13 596.62 L457.13 597.90 L457.13 599.19 L457.13 600.49 L457.13 601.80 L457.13 603.11 L457.13 604.42 L457.13 605.74 L457.13 607.05 L457.14 608.36 L457.14 609.66 L457.15 610.95 L457.16 612.22 L457.17 613.49 L457.18 614.73 L457.20 615.96 L457.22 617.17 L457.25 618.35 L457.28 619.50 L457.31 620.63 L457.35 621.72 L457.39 622.79 L457.45 623.81 L457.50 624.80 L457.59 626.25 L457.70 627.63 L457.82 628.94 L457.95 630.20 L458.08 631.42 L458.20 632.61 L458.33 633.77 L458.47 634.93 L458.63 636.08 L458.80 637.23 L458.94 638.41 L459.07 639.62 L459.21 640.86 L459.36 642.15 L459.50 643.50 L459.60 644.58 L459.70 645.69 L459.80 646.82 L459.91 647.96 L459.99 649.13 L460.09 650.31 L460.20 651.50 L460.29 652.70 L460.38 653.92 L460.49 655.14 L460.58 656.38 L460.68 657.62 L460.78 658.86 L460.88 660.11 L460.98 661.35 L461.09 662.60 L461.19 663.85 L461.29 665.09 L461.40 666.33 L461.52 667.56 L461.63 668.79 L461.75 670.00 L461.88 671.21 L462.00 672.40 L462.12 673.67 L462.27 674.95 L462.40 676.25 L462.52 677.56 L462.65 678.87 L462.79 680.19 L462.93 681.52 L463.06 682.84 L463.19 684.16 L463.33 685.47 L463.48 686.77 L463.64 688.06 L463.79 689.34 L463.94 690.59 L464.11 691.83 L464.30 693.03 L464.46 694.22 L464.63 695.37 L464.83 696.49 L465.03 697.57 L465.24 698.61 L465.50 699.60 L465.82 701.06 L466.20 702.50 L466.58 703.91 L466.92 705.28 L467.31 706.58 L467.60 707.84 L468.08 708.95 L468.59 709.94 L469.07 710.83 L469.95 711.23 L471.00 712.58 L472.42 713.46 L473.98 713.01 L474.80 712.56 L475.90 712.22 L476.86 711.37 L478.11 710.78 L478.73 709.48 L479.62 708.60 L480.96 708.05 L482.38 707.84 L483.47 706.99 L484.27 705.64 L484.57 704.97 L484.70 704.17 L484.88 703.31 L485.07 702.38 L485.20 701.35 L485.29 700.25 L485.35 699.09 L485.39 697.87 L485.40 696.59 L485.40 695.28 L485.38 693.92 L485.35 692.54 L485.30 691.13 L485.25 689.72 L485.20 688.29 L485.14 686.86 L485.09 685.44 L485.05 684.04 L485.01 682.66 L484.98 681.31 L484.97 679.99 L484.97 678.72 L485.00 677.50 L485.03 676.24 L485.06 674.95 L485.08 673.65 L485.09 672.32 L485.10 670.98 L485.10 669.64 L485.11 668.29 L485.11 666.95 L485.12 665.61 L485.13 664.29 L485.14 662.98 L485.16 661.70 L485.19 660.45 L485.23 659.22 L485.28 658.04 L485.34 656.90 L485.42 655.80 L485.51 654.76 L485.62 653.78 L485.74 652.85 L485.87 651.99 L486.20 650.63 L486.66 649.54 L487.02 648.53 L487.42 647.55 L488.05 646.54 L488.37 645.19 L488.66 644.30 L488.84 643.31 L489.03 642.26 L489.26 641.16 L489.45 640.00 L489.62 638.79 L489.80 637.54 L490.00 636.27 L490.19 634.96 L490.36 633.63 L490.54 632.29 L490.71 630.95 L490.89 629.60 L491.06 628.26 L491.24 626.93 L491.42 625.63 L491.61 624.35 L491.80 623.10 L492.00 621.87 L492.16 620.63 L492.35 619.38 L492.54 618.13 L492.75 616.88 L492.92 615.62 L493.08 614.37 L493.30 613.12 L493.48 611.87 L493.67 610.62 L493.84 609.38 L494.04 608.15 L494.21 606.92 L494.40 605.71 L494.62 604.51 L494.82 603.33 L494.98 602.15 L495.22 601.00 L495.40 599.70 L495.63 598.42 L495.83 597.14 L496.05 595.87 L496.26 594.61 L496.50 593.37 L496.70 592.14 L496.92 590.92 L497.15 589.72 L497.41 588.53 L497.72 587.38 L497.98 586.23 L498.22 585.09 L498.63 584.01 L499.02 582.69 L499.42 581.39 L499.86 580.12 L500.33 578.88 L500.84 577.67 L501.27 576.45 L501.85 575.32 L502.37 574.18 L503.07 573.16 L503.64 572.06 L504.42 571.05 L505.29 570.12 L506.27 569.31 L506.90 568.14 L508.28 567.78 L508.97 566.64 L510.26 566.24 L511.22 565.38 L512.51 565.04 L513.38 564.15 L514.33 563.28 L515.47 562.73 L516.78 562.54 L518.08 562.33 L519.37 562.08 L520.33 560.58 L521.63 560.13 L522.99 559.92 L524.35 559.65 L525.72 559.41 L526.91 559.23 L528.13 559.63 L529.36 559.41 L530.53 560.51 L531.78 560.50 L532.96 561.26 L534.22 561.41 L535.54 561.22 L536.77 561.76 L538.29 560.35 L539.52 560.89 L540.63 562.29 L542.00 561.65 L543.30 561.29 L544.47 562.36 L545.80 561.83 L547.07 562.09 L548.37 561.72 L549.65 561.62 L550.93 561.36 L552.19 562.31 L553.47 562.95 L554.74 563.02 L556.02 562.63 L557.29 562.93 L558.57 561.91 L559.85 561.81 L561.11 562.94 L562.40 562.38" fill="none" stroke="#0a0a0a" stroke-width="5.3" stroke-linejoin="round" stroke-linecap="butt"/>
<path d="M607.60 560.97 L608.84 561.83 L610.09 561.90 L611.31 562.27 L612.62 561.15 L613.87 561.31 L615.15 561.26 L616.43 561.53 L617.61 562.59 L619.12 561.77 L620.09 562.69 L621.36 562.49 L622.47 562.98 L623.56 563.59 L624.51 564.62 L625.81 564.71 L627.32 564.24 L628.36 565.04 L629.61 565.21 L630.48 566.71 L631.72 566.90 L632.95 567.12 L634.17 567.28 L635.47 567.17 L636.81 567.47 L638.10 567.05 L639.26 565.92 L640.74 566.70 L641.92 565.81 L643.30 565.97 L644.51 565.35 L645.72 564.84 L646.94 564.47 L648.19 564.35 L649.36 563.97 L650.72 563.49 L652.16 564.68 L653.51 564.62 L654.87 564.94 L656.18 564.38 L657.44 564.07 L658.70 564.28 L659.62 563.03 L660.91 563.53 L662.09 562.42 L663.15 561.10 L664.26 559.93 L665.39 559.30 L666.19 558.69 L666.48 559.51 L666.66 560.30 L666.74 561.39 L666.72 562.70 L666.65 564.19 L666.56 565.78 L666.50 567.41 L666.50 569.00 L666.52 569.94 L666.55 570.94 L666.57 571.97 L666.59 573.05 L666.61 574.17 L666.63 575.32 L666.64 576.51 L666.66 577.72 L666.68 578.96 L666.69 580.23 L666.71 581.52 L666.72 582.82 L666.74 584.14 L666.75 585.47 L666.76 586.81 L666.78 588.16 L666.79 589.51 L666.81 590.86 L666.83 592.21 L666.84 593.55 L666.86 594.88 L666.88 596.20 L666.90 597.50 L666.92 598.68 L666.93 599.87 L666.94 601.08 L666.95 602.31 L666.95 603.55 L666.95 604.80 L666.95 606.07 L666.95 607.34 L666.95 608.62 L666.95 609.90 L666.96 611.18 L666.96 612.47 L666.96 613.75 L666.97 615.04 L666.97 616.32 L666.98 617.59 L667.00 618.85 L667.01 620.10 L667.04 621.35 L667.06 622.57 L667.09 623.79 L667.13 624.98 L667.18 626.16 L667.22 627.32 L667.28 628.45 L667.35 629.56 L667.42 630.64 L667.50 631.70 L667.63 633.04 L667.76 634.32 L667.91 635.56 L668.06 636.76 L668.26 637.92 L668.43 639.07 L668.61 640.20 L668.77 641.32 L668.99 642.42 L669.19 643.54 L669.38 644.67 L669.59 645.81 L669.79 646.97 L669.95 648.18 L670.12 649.42 L670.29 650.70 L670.44 651.83 L670.57 652.98 L670.70 654.15 L670.84 655.35 L670.96 656.57 L671.09 657.80 L671.22 659.05 L671.35 660.31 L671.47 661.58 L671.59 662.86 L671.72 664.14 L671.83 665.43 L671.96 666.72 L672.07 668.01 L672.19 669.29 L672.33 670.57 L672.44 671.85 L672.57 673.11 L672.69 674.36 L672.81 675.60 L672.94 676.82 L673.07 678.02 L673.20 679.20 L673.35 680.47 L673.47 681.75 L673.61 683.03 L673.72 684.31 L673.86 685.59 L673.98 686.87 L674.10 688.14 L674.23 689.40 L674.35 690.65 L674.48 691.89 L674.61 693.11 L674.74 694.31 L674.88 695.49 L675.07 696.65 L675.22 697.78 L675.41 698.88 L675.57 699.96 L675.80 700.99 L675.97 702.01 L676.30 703.34 L676.65 704.64 L676.99 705.90 L677.30 707.13 L677.57 708.34 L678.06 709.43 L678.40 710.53 L678.86 711.54 L679.35 712.48 L679.67 713.48 L680.78 714.61 L681.46 716.06 L682.46 717.16 L683.29 718.34 L684.60 718.24 L685.99 718.64 L686.91 717.28 L688.19 716.42 L689.38 715.38 L690.36 714.58 L691.25 713.50 L691.72 712.01 L692.58 710.80 L693.58 709.73 L694.47 708.73 L695.02 707.72 L695.76 706.66 L696.91 706.22 L697.24 704.87 L697.46 704.21 L697.63 703.41 L697.75 702.51 L697.83 701.51 L697.87 700.42 L697.88 699.26 L697.86 698.03 L697.82 696.75 L697.77 695.42 L697.71 694.05 L697.63 692.66 L697.56 691.25 L697.49 689.83 L697.42 688.42 L697.36 687.02 L697.32 685.64 L697.30 684.30 L697.30 683.00 L697.31 681.84 L697.32 680.66 L697.32 679.46 L697.33 678.24 L697.33 677.01 L697.33 675.77 L697.33 674.52 L697.34 673.27 L697.34 672.01 L697.35 670.75 L697.36 669.49 L697.38 668.23 L697.40 666.98 L697.42 665.74 L697.45 664.51 L697.49 663.29 L697.53 662.09 L697.59 660.91 L697.65 659.74 L697.72 658.60 L697.80 657.49 L697.90 656.40 L698.04 655.07 L698.18 653.78 L698.36 652.55 L698.52 651.34 L698.75 650.16 L698.93 648.99 L699.13 647.84 L699.38 646.69 L699.59 645.53 L699.85 644.35 L700.05 643.14 L700.27 641.91 L700.50 640.63 L700.69 639.30 L700.88 638.21 L701.04 637.10 L701.20 635.96 L701.38 634.81 L701.52 633.63 L701.72 632.44 L701.87 631.24 L702.06 630.02 L702.21 628.79 L702.38 627.55 L702.57 626.30 L702.76 625.06 L702.91 623.80 L703.09 622.55 L703.27 621.29 L703.44 620.04 L703.62 618.79 L703.78 617.55 L703.97 616.32 L704.16 615.10 L704.32 613.89 L704.49 612.70 L704.67 611.43 L704.87 610.15 L705.04 608.85 L705.23 607.55 L705.40 606.23 L705.56 604.91 L705.75 603.60 L705.93 602.29 L706.10 600.98 L706.28 599.68 L706.45 598.40 L706.64 597.13 L706.82 595.89 L707.01 594.66 L707.20 593.47 L707.39 592.30 L707.64 591.17 L707.85 590.07 L708.03 589.01 L708.31 588.00 L708.64 586.67 L708.97 585.40 L709.34 584.20 L709.70 583.05 L709.98 581.90 L710.44 580.85 L710.77 579.76 L711.20 578.71 L711.60 577.65 L712.22 576.66 L712.61 575.46 L713.29 574.41 L713.64 573.21 L714.32 572.18 L715.03 571.17 L715.59 570.08 L716.14 568.97 L716.73 567.84 L717.79 567.09 L718.58 566.19 L719.74 565.58 L720.69 564.69 L721.85 564.00 L722.54 562.71 L723.60 561.87 L724.82 561.32 L726.05 560.94 L726.76 559.50 L727.99 559.27 L729.12 558.88 L730.32 559.13 L731.50 559.21 L732.37 560.57 L733.88 559.74 L734.62 561.24 L736.16 560.87 L737.37 561.31 L738.03 562.89 L739.72 562.25 L740.84 562.77 L742.01 563.38 L743.23 564.01 L744.20 565.11 L745.49 565.69 L746.70 566.38 L747.95 566.89 L748.63 568.33 L750.12 567.89 L751.05 568.43 L752.01 569.12 L753.35 569.37 L754.35 568.41 L755.44 567.67 L756.47 566.84 L757.58 566.25 L758.63 565.93 L759.60 564.58 L760.77 564.65 L761.49 565.93 L762.59 566.38 L763.64 567.10 L764.53 568.15 L766.03 568.47 L766.74 569.79 L768.00 570.31 L769.05 570.97 L770.17 571.22 L771.07 571.53 L772.32 572.18 L773.61 572.05 L775.00 572.42 L776.01 571.07 L777.42 571.49 L778.60 570.17" fill="none" stroke="#0a0a0a" stroke-width="5.3" stroke-linejoin="round" stroke-linecap="butt"/>
<path d="M829.90 568.99 L830.19 568.27 L830.88 567.07 L831.71 567.30 L832.29 566.02 L833.42 565.83 L834.71 566.62 L836.04 566.46 L837.44 565.82 L838.87 566.51 L840.26 565.98 L841.63 566.60 L842.67 565.33 L843.84 565.43 L845.11 566.54 L846.23 565.47 L847.42 565.20 L848.71 566.07 L849.91 565.68 L851.09 564.73 L852.36 565.39 L853.59 565.54 L854.78 564.61 L856.00 565.47 L857.22 564.53 L858.44 564.95 L859.69 564.55 L860.92 564.83 L862.06 566.29 L863.36 565.35 L864.50 566.50 L865.78 565.61 L866.95 566.01 L868.08 566.58 L869.26 566.35 L870.43 565.40 L871.84 566.29 L873.34 566.30 L874.77 565.37 L876.23 565.12 L877.58 566.52 L878.85 566.02 L880.13 565.97 L880.83 566.97 L881.38 567.57 L881.55 568.41 L881.85 569.26 L882.00 570.24 L882.05 571.31 L882.05 572.47 L881.99 573.70 L881.90 575.00 L881.77 576.35 L881.64 577.75 L881.49 579.17 L881.37 580.62 L881.27 582.08 L881.21 583.55 L881.20 585.00 L881.21 585.99 L881.22 587.01 L881.23 588.08 L881.24 589.17 L881.24 590.30 L881.24 591.46 L881.24 592.65 L881.24 593.86 L881.24 595.09 L881.24 596.34 L881.23 597.61 L881.23 598.90 L881.23 600.20 L881.22 601.51 L881.22 602.82 L881.22 604.15 L881.21 605.48 L881.21 606.81 L881.22 608.14 L881.22 609.46 L881.22 610.78 L881.23 612.10 L881.24 613.40 L881.25 614.69 L881.27 615.96 L881.29 617.22 L881.31 618.46 L881.34 619.68 L881.37 620.87 L881.41 622.04 L881.45 623.18 L881.49 624.29 L881.54 625.36 L881.60 626.40 L881.69 627.77 L881.79 629.09 L881.89 630.37 L882.00 631.61 L882.12 632.82 L882.23 634.01 L882.38 635.17 L882.51 636.31 L882.64 637.45 L882.77 638.57 L882.93 639.70 L883.06 640.83 L883.21 641.97 L883.35 643.13 L883.49 644.30 L883.62 645.50 L883.76 646.73 L883.90 648.00 L884.01 649.12 L884.12 650.26 L884.24 651.41 L884.34 652.58 L884.46 653.76 L884.56 654.95 L884.68 656.15 L884.78 657.36 L884.90 658.58 L885.02 659.80 L885.12 661.03 L885.24 662.26 L885.35 663.49 L885.46 664.73 L885.58 665.96 L885.69 667.19 L885.79 668.42 L885.92 669.64 L886.03 670.85 L886.14 672.06 L886.25 673.26 L886.37 674.45 L886.48 675.63 L886.60 676.80 L886.73 678.05 L886.85 679.31 L886.97 680.58 L887.08 681.86 L887.20 683.15 L887.31 684.44 L887.43 685.72 L887.54 687.01 L887.66 688.28 L887.77 689.55 L887.89 690.80 L888.02 692.04 L888.13 693.26 L888.27 694.46 L888.40 695.63 L888.55 696.78 L888.68 697.89 L888.83 698.98 L888.98 700.02 L889.12 701.04 L889.28 702.00 L889.58 703.43 L889.79 704.82 L890.02 706.15 L890.30 707.41 L890.62 708.61 L890.83 709.78 L891.22 710.84 L891.46 711.90 L891.88 712.86 L892.65 714.38 L893.42 715.89 L894.88 716.44 L895.54 717.82 L896.46 716.79 L897.41 715.94 L898.69 715.01 L899.95 713.91 L900.67 712.43 L902.07 711.85 L903.41 711.22 L904.33 710.08 L905.42 709.20 L906.26 708.14 L907.74 707.91 L908.23 706.56 L909.38 705.98 L910.05 704.72 L910.19 703.94 L910.50 703.12 L910.61 702.17 L910.73 701.14 L910.79 700.03 L910.82 698.86 L910.82 697.63 L910.79 696.34 L910.75 695.02 L910.69 693.66 L910.63 692.28 L910.56 690.89 L910.50 689.49 L910.45 688.09 L910.41 686.70 L910.39 685.34 L910.40 684.00 L910.42 682.88 L910.43 681.73 L910.44 680.55 L910.45 679.34 L910.46 678.11 L910.46 676.86 L910.46 675.59 L910.47 674.31 L910.47 673.03 L910.47 671.74 L910.48 670.45 L910.48 669.16 L910.49 667.87 L910.50 666.60 L910.52 665.34 L910.54 664.10 L910.56 662.88 L910.59 661.68 L910.62 660.51 L910.66 659.37 L910.71 658.27 L910.76 657.20 L910.83 656.18 L910.90 655.20 L911.02 653.75 L911.18 652.41 L911.32 651.17 L911.46 649.99 L911.66 648.84 L911.85 647.70 L912.05 646.53 L912.26 645.31 L912.47 644.01 L912.69 642.60 L912.88 641.58 L913.05 640.52 L913.24 639.43 L913.41 638.29 L913.62 637.13 L913.84 635.94 L914.04 634.72 L914.27 633.49 L914.49 632.24 L914.74 630.98 L914.94 629.71 L915.18 628.44 L915.44 627.17 L915.64 625.89 L915.86 624.63 L916.12 623.38 L916.32 622.13 L916.58 620.92 L916.77 619.71 L917.02 618.55 L917.20 617.40 L917.42 616.09 L917.67 614.80 L917.90 613.51 L918.12 612.23 L918.35 610.97 L918.55 609.71 L918.80 608.47 L918.98 607.22 L919.23 605.99 L919.41 604.76 L919.66 603.56 L919.86 602.34 L920.08 601.15 L920.34 599.96 L920.59 598.78 L920.79 597.60 L921.05 596.29 L921.31 594.98 L921.56 593.67 L921.78 592.36 L922.02 591.07 L922.29 589.80 L922.53 588.52 L922.77 587.27 L923.09 586.05 L923.42 584.86 L923.67 583.66 L923.95 582.49 L924.36 581.39 L924.94 580.24 L925.25 579.01 L925.76 577.88 L926.48 576.87 L926.81 575.68 L927.64 574.77 L927.98 573.61 L928.62 572.62 L929.27 571.64 L929.66 570.53 L930.51 569.44 L931.00 568.16 L931.68 566.99 L932.27 565.79 L932.65 564.49 L933.67 563.61 L934.49 562.67 L935.03 561.40 L936.22 560.95 L936.99 559.87 L938.32 559.69 L939.61 559.50 L940.63 558.49 L941.98 558.31 L943.11 557.27 L944.79 558.06 L946.06 557.30 L947.20 557.36 L948.00 555.85 L949.40 556.68 L950.35 555.33 L951.72 555.87 L952.85 555.09 L954.29 556.03 L955.34 554.46 L956.69 554.92 L957.95 554.76 L959.19 554.48 L960.39 553.79 L961.68 554.78 L962.88 555.28 L964.00 554.15 L965.24 555.13 L966.53 554.19 L967.79 554.18 L968.98 554.64 L970.07 555.71 L971.31 555.56 L972.55 555.50 L973.91 554.69 L974.96 555.60 L976.24 555.03 L977.37 555.29 L978.43 555.98 L979.80 555.91 L981.16 555.81 L982.39 556.68 L983.63 557.30 L984.88 557.69 L986.16 557.81 L987.54 557.09 L988.87 556.79 L990.10 558.33" fill="none" stroke="#0a0a0a" stroke-width="5.3" stroke-linejoin="round" stroke-linecap="butt"/>
<line x1="186.4" y1="133.4" x2="173.2" y2="167.6" stroke="#0a0a0a" stroke-width="5.2"/><line x1="194.6" y1="133.4" x2="181.4" y2="167.6" stroke="#0a0a0a" stroke-width="5.2"/>
<line x1="388.2" y1="133.5" x2="375.1" y2="167.7" stroke="#0a0a0a" stroke-width="5.2"/><line x1="396.4" y1="133.5" x2="383.3" y2="167.7" stroke="#0a0a0a" stroke-width="5.2"/>
<line x1="586.6" y1="131.8" x2="573.6" y2="166.0" stroke="#0a0a0a" stroke-width="5.2"/><line x1="594.9" y1="131.8" x2="581.8" y2="166.0" stroke="#0a0a0a" stroke-width="5.2"/>
<line x1="807.8" y1="131.7" x2="794.8" y2="165.8" stroke="#0a0a0a" stroke-width="5.2"/><line x1="816.0" y1="131.7" x2="803.0" y2="165.8" stroke="#0a0a0a" stroke-width="5.2"/>
<line x1="186.6" y1="319.4" x2="173.4" y2="353.6" stroke="#0a0a0a" stroke-width="5.2"/><line x1="194.8" y1="319.4" x2="181.6" y2="353.6" stroke="#0a0a0a" stroke-width="5.2"/>
<line x1="388.2" y1="319.5" x2="375.1" y2="353.7" stroke="#0a0a0a" stroke-width="5.2"/><line x1="396.5" y1="319.5" x2="383.4" y2="353.7" stroke="#0a0a0a" stroke-width="5.2"/>
<line x1="586.6" y1="319.5" x2="573.6" y2="353.7" stroke="#0a0a0a" stroke-width="5.2"/><line x1="594.9" y1="319.5" x2="581.8" y2="353.7" stroke="#0a0a0a" stroke-width="5.2"/>
<line x1="805.1" y1="319.4" x2="792.1" y2="353.6" stroke="#0a0a0a" stroke-width="5.2"/><line x1="813.4" y1="319.4" x2="800.3" y2="353.6" stroke="#0a0a0a" stroke-width="5.2"/>
<line x1="185.3" y1="546.3" x2="172.2" y2="580.5" stroke="#0a0a0a" stroke-width="5.2"/><line x1="193.5" y1="546.3" x2="180.4" y2="580.5" stroke="#0a0a0a" stroke-width="5.2"/>
<line x1="388.2" y1="546.3" x2="375.1" y2="580.5" stroke="#0a0a0a" stroke-width="5.2"/><line x1="396.5" y1="546.3" x2="383.4" y2="580.5" stroke="#0a0a0a" stroke-width="5.2"/>
<line x1="584.0" y1="548.1" x2="571.0" y2="582.4" stroke="#0a0a0a" stroke-width="5.2"/><line x1="592.2" y1="548.1" x2="579.2" y2="582.4" stroke="#0a0a0a" stroke-width="5.2"/>
<line x1="805.1" y1="548.2" x2="792.1" y2="582.4" stroke="#0a0a0a" stroke-width="5.2"/><line x1="813.4" y1="548.2" x2="800.3" y2="582.4" stroke="#0a0a0a" stroke-width="5.2"/>
<rect x="50.8" y="124.0" width="26.6" height="6.5" fill="#0a0a0a"/>
<rect x="252.0" y="124.0" width="26.6" height="6.5" fill="#0a0a0a"/>
<rect x="453.4" y="112.0" width="26.6" height="6.6" fill="#0a0a0a"/>
<rect x="453.4" y="124.0" width="26.6" height="6.5" fill="#0a0a0a"/>
<rect x="665.0" y="112.0" width="26.6" height="6.6" fill="#0a0a0a"/>
<rect x="665.0" y="124.0" width="26.6" height="6.5" fill="#0a0a0a"/>
<rect x="878.0" y="112.0" width="26.6" height="6.6" fill="#0a0a0a"/>
<rect x="878.0" y="124.0" width="26.6" height="6.5" fill="#0a0a0a"/>
<rect x="50.2" y="301.4" width="26.6" height="6.6" fill="#0a0a0a"/>
<rect x="50.2" y="313.2" width="26.6" height="6.6" fill="#0a0a0a"/>
<rect x="252.0" y="301.4" width="26.6" height="6.6" fill="#0a0a0a"/>
<rect x="252.0" y="313.2" width="26.6" height="6.6" fill="#0a0a0a"/>
<rect x="453.4" y="301.4" width="26.6" height="6.6" fill="#0a0a0a"/>
<rect x="453.4" y="313.2" width="26.6" height="6.6" fill="#0a0a0a"/>
<rect x="665.0" y="301.4" width="26.6" height="6.6" fill="#0a0a0a"/>
<rect x="665.0" y="313.2" width="26.6" height="6.6" fill="#0a0a0a"/>
<rect x="877.8" y="301.4" width="26.6" height="6.6" fill="#0a0a0a"/>
<rect x="877.8" y="313.2" width="26.6" height="6.6" fill="#0a0a0a"/>
<rect x="50.0" y="527.0" width="26.6" height="6.4" fill="#0a0a0a"/>
<rect x="50.0" y="538.8" width="26.6" height="6.4" fill="#0a0a0a"/>
<rect x="251.9" y="529.1" width="26.6" height="6.4" fill="#0a0a0a"/>
<rect x="251.9" y="541.1" width="26.6" height="6.4" fill="#0a0a0a"/>
<rect x="453.4" y="529.1" width="26.6" height="6.4" fill="#0a0a0a"/>
<rect x="453.4" y="541.1" width="26.6" height="6.4" fill="#0a0a0a"/>
<rect x="665.0" y="529.1" width="26.6" height="6.4" fill="#0a0a0a"/>
<rect x="665.0" y="541.1" width="26.6" height="6.4" fill="#0a0a0a"/>
<rect x="877.8" y="529.1" width="26.6" height="6.4" fill="#0a0a0a"/>
<rect x="877.8" y="541.1" width="26.6" height="6.4" fill="#0a0a0a"/>
<path d="M865.3 771.1 H888.9 V744.3" fill="none" stroke="#0a0a0a" stroke-width="6"/>
<path d="M172.8 1536.50 h5.8 M982.0 1536.50 h-5.8 M172.8 1514.59 h5.8 M982.0 1514.59 h-5.8 M172.8 1492.69 h5.8 M982.0 1492.69 h-5.8 M172.8 1470.79 h5.8 M982.0 1470.79 h-5.8 M172.8 1448.88 h12.3 M982.0 1448.88 h-12.3 M172.8 1426.98 h5.8 M982.0 1426.98 h-5.8 M172.8 1405.08 h5.8 M982.0 1405.08 h-5.8 M172.8 1383.18 h5.8 M982.0 1383.18 h-5.8 M172.8 1361.27 h5.8 M982.0 1361.27 h-5.8 M172.8 1339.37 h12.3 M982.0 1339.37 h-12.3 M172.8 1317.47 h5.8 M982.0 1317.47 h-5.8 M172.8 1295.56 h5.8 M982.0 1295.56 h-5.8 M172.8 1273.66 h5.8 M982.0 1273.66 h-5.8 M172.8 1251.76 h5.8 M982.0 1251.76 h-5.8 M172.8 1229.86 h12.3 M982.0 1229.86 h-12.3 M172.8 1207.95 h5.8 M982.0 1207.95 h-5.8 M172.8 1186.05 h5.8 M982.0 1186.05 h-5.8 M172.8 1164.15 h5.8 M982.0 1164.15 h-5.8 M172.8 1142.24 h5.8 M982.0 1142.24 h-5.8 M172.8 1120.34 h12.3 M982.0 1120.34 h-12.3 M172.8 1098.44 h5.8 M982.0 1098.44 h-5.8 M172.8 1076.53 h5.8 M982.0 1076.53 h-5.8 M172.8 1054.63 h5.8 M982.0 1054.63 h-5.8 M172.8 1032.73 h5.8 M982.0 1032.73 h-5.8 M172.8 1010.83 h12.3 M982.0 1010.83 h-12.3 M172.8 988.92 h5.8 M982.0 988.92 h-5.8 M172.8 967.02 h5.8 M982.0 967.02 h-5.8 M172.8 945.12 h5.8 M982.0 945.12 h-5.8 M172.8 923.21 h5.8 M982.0 923.21 h-5.8 M206.17 1555.1 v-5.6 M206.17 904.6 v5.6 M227.61 1555.1 v-5.6 M227.61 904.6 v5.6 M242.83 1555.1 v-5.6 M242.83 904.6 v5.6 M254.63 1555.1 v-5.6 M254.63 904.6 v5.6 M264.28 1555.1 v-5.6 M264.28 904.6 v5.6 M272.43 1555.1 v-5.6 M272.43 904.6 v5.6 M279.50 1555.1 v-5.6 M279.50 904.6 v5.6 M285.73 1555.1 v-5.6 M285.73 904.6 v5.6 M291.30 1555.1 v-12.0 M291.30 904.6 v12.0 M327.97 1555.1 v-5.6 M327.97 904.6 v5.6 M349.41 1555.1 v-5.6 M349.41 904.6 v5.6 M364.63 1555.1 v-5.6 M364.63 904.6 v5.6 M376.43 1555.1 v-5.6 M376.43 904.6 v5.6 M386.08 1555.1 v-5.6 M386.08 904.6 v5.6 M394.23 1555.1 v-5.6 M394.23 904.6 v5.6 M401.30 1555.1 v-5.6 M401.30 904.6 v5.6 M407.53 1555.1 v-5.6 M407.53 904.6 v5.6 M413.10 1555.1 v-12.0 M413.10 904.6 v12.0 M449.77 1555.1 v-5.6 M449.77 904.6 v5.6 M471.21 1555.1 v-5.6 M471.21 904.6 v5.6 M486.43 1555.1 v-5.6 M486.43 904.6 v5.6 M498.23 1555.1 v-5.6 M498.23 904.6 v5.6 M507.88 1555.1 v-5.6 M507.88 904.6 v5.6 M516.03 1555.1 v-5.6 M516.03 904.6 v5.6 M523.10 1555.1 v-5.6 M523.10 904.6 v5.6 M529.33 1555.1 v-5.6 M529.33 904.6 v5.6 M534.90 1555.1 v-12.0 M534.90 904.6 v12.0 M571.57 1555.1 v-5.6 M571.57 904.6 v5.6 M593.01 1555.1 v-5.6 M593.01 904.6 v5.6 M608.23 1555.1 v-5.6 M608.23 904.6 v5.6 M620.03 1555.1 v-5.6 M620.03 904.6 v5.6 M629.68 1555.1 v-5.6 M629.68 904.6 v5.6 M637.83 1555.1 v-5.6 M637.83 904.6 v5.6 M644.90 1555.1 v-5.6 M644.90 904.6 v5.6 M651.13 1555.1 v-5.6 M651.13 904.6 v5.6 M656.70 1555.1 v-12.0 M656.70 904.6 v12.0 M693.37 1555.1 v-5.6 M693.37 904.6 v5.6 M714.81 1555.1 v-5.6 M714.81 904.6 v5.6 M730.03 1555.1 v-5.6 M730.03 904.6 v5.6 M741.83 1555.1 v-5.6 M741.83 904.6 v5.6 M751.48 1555.1 v-5.6 M751.48 904.6 v5.6 M759.63 1555.1 v-5.6 M759.63 904.6 v5.6 M766.70 1555.1 v-5.6 M766.70 904.6 v5.6 M772.93 1555.1 v-5.6 M772.93 904.6 v5.6 M778.50 1555.1 v-12.0 M778.50 904.6 v12.0 M815.17 1555.1 v-5.6 M815.17 904.6 v5.6 M836.61 1555.1 v-5.6 M836.61 904.6 v5.6 M851.83 1555.1 v-5.6 M851.83 904.6 v5.6 M863.63 1555.1 v-5.6 M863.63 904.6 v5.6 M873.28 1555.1 v-5.6 M873.28 904.6 v5.6 M881.43 1555.1 v-5.6 M881.43 904.6 v5.6 M888.50 1555.1 v-5.6 M888.50 904.6 v5.6 M894.73 1555.1 v-5.6 M894.73 904.6 v5.6 M900.30 1555.1 v-12.0 M900.30 904.6 v12.0 M936.97 1555.1 v-5.6 M936.97 904.6 v5.6 M958.41 1555.1 v-5.6 M958.41 904.6 v5.6 M973.63 1555.1 v-5.6 M973.63 904.6 v5.6" fill="none" stroke="#0a0a0a" stroke-width="4.2"/>
<rect x="169.5" y="901.3" width="815.8" height="657.1" fill="none" stroke="#0a0a0a" stroke-width="6.8"/>
<path d="M169.50 1556.71 L172.22 1556.65 L174.94 1556.59 L177.65 1556.53 L180.37 1556.46 L183.09 1556.40 L185.81 1556.33 L188.52 1556.26 L191.24 1556.18 L193.96 1556.11 L196.68 1556.03 L199.40 1555.95 L202.11 1555.86 L204.83 1555.78 L207.55 1555.69 L210.27 1555.59 L212.98 1555.50 L215.70 1555.40 L218.42 1555.29 L221.14 1555.19 L223.86 1555.08 L226.57 1554.96 L229.29 1554.85 L232.01 1554.72 L234.73 1554.60 L237.44 1554.47 L240.16 1554.33 L242.88 1554.19 L245.60 1554.05 L248.31 1553.90 L251.03 1553.75 L253.75 1553.59 L256.47 1553.42 L259.19 1553.25 L261.90 1553.08 L264.62 1552.89 L267.34 1552.71 L270.06 1552.51 L272.77 1552.31 L275.49 1552.10 L278.21 1551.89 L280.93 1551.67 L283.65 1551.44 L286.36 1551.20 L289.08 1550.95 L291.80 1550.70 L294.52 1550.44 L297.23 1550.17 L299.95 1549.89 L302.67 1549.60 L305.39 1549.30 L308.11 1548.99 L310.82 1548.68 L313.54 1548.35 L316.26 1548.01 L318.98 1547.66 L321.69 1547.29 L324.41 1546.92 L327.13 1546.53 L329.85 1546.13 L332.57 1545.72 L335.28 1545.29 L338.00 1544.85 L340.72 1544.40 L343.44 1543.93 L346.15 1543.44 L348.87 1542.94 L351.59 1542.43 L354.31 1541.90 L357.02 1541.35 L359.74 1540.78 L362.46 1540.19 L365.18 1539.59 L367.90 1538.96 L370.61 1538.32 L373.33 1537.66 L376.05 1536.97 L378.77 1536.26 L381.48 1535.54 L384.20 1534.78 L386.92 1534.01 L389.64 1533.21 L392.36 1532.39 L395.07 1531.54 L397.79 1530.67 L400.51 1529.76 L403.23 1528.84 L405.94 1527.88 L408.66 1526.89 L411.38 1525.88 L414.10 1524.83 L416.82 1523.76 L419.53 1522.65 L422.25 1521.51 L424.97 1520.34 L427.69 1519.13 L430.40 1517.89 L433.12 1516.61 L435.84 1515.29 L438.56 1513.94 L441.28 1512.55 L443.99 1511.12 L446.71 1509.66 L449.43 1508.15 L452.15 1506.60 L454.86 1505.01 L457.58 1503.38 L460.30 1501.70 L463.02 1499.98 L465.73 1498.21 L468.45 1496.40 L471.17 1494.54 L473.89 1492.64 L476.61 1490.69 L479.32 1488.69 L482.04 1486.64 L484.76 1484.54 L487.48 1482.40 L490.19 1480.20 L492.91 1477.95 L495.63 1475.65 L498.35 1473.30 L501.07 1470.89 L503.78 1468.44 L506.50 1465.93 L509.22 1463.37 L511.94 1460.75 L514.65 1458.08 L517.37 1455.36 L520.09 1452.59 L522.81 1449.76 L525.53 1446.88 L528.24 1443.95 L530.96 1440.96 L533.68 1437.92 L536.40 1434.83 L539.11 1431.69 L541.83 1428.50 L544.55 1425.26 L547.27 1421.97 L549.99 1418.63 L552.70 1415.24 L555.42 1411.81 L558.14 1408.33 L560.86 1404.81 L563.57 1401.24 L566.29 1397.63 L569.01 1393.98 L571.73 1390.30 L574.45 1386.57 L577.16 1382.81 L579.88 1379.01 L582.60 1375.18 L585.32 1371.32 L588.03 1367.44 L590.75 1363.52 L593.47 1359.58 L596.19 1355.62 L598.90 1351.64 L601.62 1347.64 L604.34 1343.62 L607.06 1339.58 L609.78 1335.54 L612.49 1331.49 L615.21 1327.43 L617.93 1323.36 L620.65 1319.29 L623.36 1315.22 L626.08 1311.16 L628.80 1307.10 L631.52 1303.04 L634.24 1298.99 L636.95 1294.96 L639.67 1290.94 L642.39 1286.93 L645.11 1282.95 L647.82 1278.98 L650.54 1275.04 L653.26 1271.12 L655.98 1267.22 L658.70 1263.36 L661.41 1259.52 L664.13 1255.72 L666.85 1251.95 L669.57 1248.22 L672.28 1244.52 L675.00 1240.87 L677.72 1237.25 L680.44 1233.67 L683.16 1230.14 L685.87 1226.65 L688.59 1223.21 L691.31 1219.82 L694.03 1216.47 L696.74 1213.17 L699.46 1209.92 L702.18 1206.71 L704.90 1203.56 L707.61 1200.46 L710.33 1197.42 L713.05 1194.42 L715.77 1191.48 L718.49 1188.58 L721.20 1185.75 L723.92 1182.96 L726.64 1180.23 L729.36 1177.55 L732.07 1174.93 L734.79 1172.35 L737.51 1169.83 L740.23 1167.37 L742.95 1164.95 L745.66 1162.59 L748.38 1160.28 L751.10 1158.02 L753.82 1155.81 L756.53 1153.66 L759.25 1151.55 L761.97 1149.49 L764.69 1147.48 L767.41 1145.52 L770.12 1143.61 L772.84 1141.74 L775.56 1139.92 L778.28 1138.15 L780.99 1136.42 L783.71 1134.73 L786.43 1133.09 L789.15 1131.49 L791.87 1129.94 L794.58 1128.42 L797.30 1126.94 L800.02 1125.51 L802.74 1124.11 L805.45 1122.75 L808.17 1121.43 L810.89 1120.15 L813.61 1118.90 L816.32 1117.68 L819.04 1116.50 L821.76 1115.35 L824.48 1114.24 L827.20 1113.16 L829.91 1112.11 L832.63 1111.09 L835.35 1110.09 L838.07 1109.13 L840.78 1108.20 L843.50 1107.29 L846.22 1106.41 L848.94 1105.56 L851.66 1104.73 L854.37 1103.93 L857.09 1103.15 L859.81 1102.39 L862.53 1101.66 L865.24 1100.95 L867.96 1100.26 L870.68 1099.59 L873.40 1098.94 L876.12 1098.32 L878.83 1097.71 L881.55 1097.12 L884.27 1096.55 L886.99 1095.99 L889.70 1095.46 L892.42 1094.94 L895.14 1094.43 L897.86 1093.95 L900.58 1093.47 L903.29 1093.02 L906.01 1092.57 L908.73 1092.14 L911.45 1091.73 L914.16 1091.33 L916.88 1090.94 L919.60 1090.56 L922.32 1090.20 L925.04 1089.84 L927.75 1089.50 L930.47 1089.17 L933.19 1088.85 L935.91 1088.54 L938.62 1088.24 L941.34 1087.95 L944.06 1087.67 L946.78 1087.39 L949.49 1087.13 L952.21 1086.88 L954.93 1086.63 L957.65 1086.39 L960.37 1086.16 L963.08 1085.94 L965.80 1085.72 L968.52 1085.51 L971.24 1085.31 L973.95 1085.11 L976.67 1084.92 L979.39 1084.74 L982.11 1084.56 L984.83 1084.39" fill="none" stroke="#0a0a0a" stroke-width="7"/>
<path d="M364.38 1556.11 L365.37 1556.06 L366.36 1556.02 L367.35 1555.97 L368.34 1555.93 L369.33 1555.88 L370.32 1555.83 L371.31 1555.79 L372.30 1555.74 L373.29 1555.69 L374.28 1555.64 L375.27 1555.59 L376.26 1555.53 L377.25 1555.48 L378.24 1555.42 L379.23 1555.37 L380.22 1555.31 L381.21 1555.25 L382.20 1555.19 L383.19 1555.13 L384.18 1555.07 L385.17 1555.01 L386.16 1554.95 L387.15 1554.88 L388.14 1554.82 L389.13 1554.75 L390.12 1554.68 L391.11 1554.61 L392.10 1554.54 L393.09 1554.47 L394.08 1554.40 L395.07 1554.32 L396.06 1554.25 L397.05 1554.17 L398.04 1554.09 L399.03 1554.01 L400.02 1553.93 L401.01 1553.84 L402.00 1553.76 L402.99 1553.67 L403.98 1553.58 L404.97 1553.49 L405.96 1553.40 L406.95 1553.31 L407.94 1553.21 L408.93 1553.12 L409.92 1553.02 L410.91 1552.92 L411.90 1552.81 L412.89 1552.71 L413.88 1552.60 L414.87 1552.50 L415.86 1552.39 L416.85 1552.27 L417.84 1552.16 L418.83 1552.04 L419.82 1551.93 L420.81 1551.81 L421.80 1551.68 L422.79 1551.56 L423.78 1551.43 L424.77 1551.30 L425.76 1551.17 L426.75 1551.04 L427.74 1550.90 L428.73 1550.76 L429.72 1550.62 L430.71 1550.47 L431.70 1550.33 L432.69 1550.18 L433.68 1550.02 L434.67 1549.87 L435.66 1549.71 L436.65 1549.55 L437.64 1549.39 L438.63 1549.22 L439.62 1549.05 L440.61 1548.88 L441.60 1548.70 L442.59 1548.52 L443.58 1548.34 L444.57 1548.15 L445.56 1547.96 L446.55 1547.77 L447.54 1547.57 L448.53 1547.37 L449.52 1547.17 L450.51 1546.96 L451.50 1546.75 L452.49 1546.54 L453.49 1546.32 L454.48 1546.10 L455.47 1545.87 L456.46 1545.64 L457.45 1545.41 L458.44 1545.17 L459.43 1544.93 L460.42 1544.68 L461.41 1544.43 L462.40 1544.17 L463.39 1543.91 L464.38 1543.64 L465.37 1543.37 L466.36 1543.10 L467.35 1542.82 L468.34 1542.54 L469.33 1542.25 L470.32 1541.95 L471.31 1541.65 L472.30 1541.35 L473.29 1541.03 L474.28 1540.72 L475.27 1540.40 L476.26 1540.07 L477.25 1539.74 L478.24 1539.40 L479.23 1539.05 L480.22 1538.70 L481.21 1538.34 L482.20 1537.98 L483.19 1537.61 L484.18 1537.24 L485.17 1536.85 L486.16 1536.46 L487.15 1536.07 L488.14 1535.67 L489.13 1535.26 L490.12 1534.84 L491.11 1534.42 L492.10 1533.99 L493.09 1533.55 L494.08 1533.10 L495.07 1532.65 L496.06 1532.19 L497.05 1531.72 L498.04 1531.24 L499.03 1530.76 L500.02 1530.26 L501.01 1529.76 L502.00 1529.25 L502.99 1528.74 L503.98 1528.21 L504.97 1527.67 L505.96 1527.13 L506.95 1526.57 L507.94 1526.01 L508.93 1525.44 L509.92 1524.86 L510.91 1524.27 L511.90 1523.67 L512.89 1523.06 L513.88 1522.44 L514.87 1521.81 L515.86 1521.17 L516.85 1520.51 L517.84 1519.85 L518.83 1519.18 L519.82 1518.50 L520.81 1517.80 L521.80 1517.10 L522.79 1516.38 L523.78 1515.66 L524.77 1514.92 L525.76 1514.17 L526.75 1513.40 L527.74 1512.63 L528.73 1511.84 L529.72 1511.05 L530.71 1510.24 L531.70 1509.41 L532.69 1508.58 L533.68 1507.73 L534.67 1506.87 L535.66 1505.99 L536.65 1505.11 L537.64 1504.20 L538.63 1503.29 L539.62 1502.36 L540.61 1501.42 L541.60 1500.47 L542.59 1499.50 L543.58 1498.51 L544.57 1497.52 L545.56 1496.50 L546.55 1495.48 L547.54 1494.43 L548.53 1493.38 L549.52 1492.31 L550.51 1491.22 L551.50 1490.12 L552.49 1489.00 L553.48 1487.87 L554.47 1486.72 L555.46 1485.56 L556.45 1484.38 L557.44 1483.18 L558.43 1481.97 L559.42 1480.74 L560.41 1479.50 L561.40 1478.24 L562.39 1476.96 L563.38 1475.67 L564.37 1474.36 L565.36 1473.03 L566.35 1471.69 L567.34 1470.33 L568.33 1468.95 L569.32 1467.56 L570.31 1466.15 L571.30 1464.72 L572.29 1463.27 L573.28 1461.81 L574.27 1460.33 L575.26 1458.83 L576.25 1457.31 L577.24 1455.78 L578.23 1454.23 L579.22 1452.66 L580.21 1451.07 L581.20 1449.47 L582.19 1447.85 L583.18 1446.21 L584.17 1444.55 L585.16 1442.88 L586.15 1441.19 L587.14 1439.48 L588.13 1437.75 L589.12 1436.00 L590.11 1434.24 L591.10 1432.46 L592.09 1430.66 L593.08 1428.85 L594.07 1427.02 L595.06 1425.17 L596.05 1423.30 L597.04 1421.42 L598.03 1419.52 L599.02 1417.60 L600.01 1415.67 L601.00 1413.72 L601.99 1411.75 L602.98 1409.77 L603.97 1407.77 L604.96 1405.75 L605.95 1403.72 L606.94 1401.67 L607.93 1399.61 L608.92 1397.53 L609.91 1395.44 L610.90 1393.33 L611.89 1391.21 L612.88 1389.07 L613.87 1386.92 L614.86 1384.76 L615.85 1382.58 L616.84 1380.38 L617.83 1378.18 L618.82 1375.96 L619.81 1373.73 L620.80 1371.48 L621.79 1369.23 L622.78 1366.96 L623.77 1364.68 L624.76 1362.39 L625.75 1360.08 L626.74 1357.77 L627.73 1355.45 L628.72 1353.11 L629.71 1350.77 L630.70 1348.42 L631.70 1346.06 L632.69 1343.69 L633.68 1341.31 L634.67 1338.92 L635.66 1336.53 L636.65 1334.13 L637.64 1331.72 L638.63 1329.31 L639.62 1326.89 L640.61 1324.47 L641.60 1322.04 L642.59 1319.60 L643.58 1317.16 L644.57 1314.72 L645.56 1312.28 L646.55 1309.83 L647.54 1307.38 L648.53 1304.92 L649.52 1302.47 L650.51 1300.01 L651.50 1297.56 L652.49 1295.10 L653.48 1292.64 L654.47 1290.18 L655.46 1287.73 L656.45 1285.27 L657.44 1282.82 L658.43 1280.37 L659.42 1277.92 L660.41 1275.47 L661.40 1273.03 L662.39 1270.59 L663.38 1268.16 L664.37 1265.73 L665.36 1263.30 L666.35 1260.88 L667.34 1258.47 L668.33 1256.06 L669.32 1253.66 L670.31 1251.27 L671.30 1248.88 L672.29 1246.50 L673.28 1244.13 L674.27 1241.77 L675.26 1239.42 L676.25 1237.08 L677.24 1234.74 L678.23 1232.42 L679.22 1230.11 L680.21 1227.80 L681.20 1225.51 L682.19 1223.23 L683.18 1220.96 L684.17 1218.70 L685.16 1216.46 L686.15 1214.23 L687.14 1212.01 L688.13 1209.80 L689.12 1207.60 L690.11 1205.42 L691.10 1203.26 L692.09 1201.11 L693.08 1198.97 L694.07 1196.85 L695.06 1194.74 L696.05 1192.64 L697.04 1190.56 L698.03 1188.50 L699.02 1186.45 L700.01 1184.42 L701.00 1182.40 L701.99 1180.40 L702.98 1178.42 L703.97 1176.45 L704.96 1174.50 L705.95 1172.57 L706.94 1170.65 L707.93 1168.75 L708.92 1166.86 L709.91 1165.00 L710.90 1163.15 L711.89 1161.31 L712.88 1159.50 L713.87 1157.70 L714.86 1155.92 L715.85 1154.16 L716.84 1152.41 L717.83 1150.68 L718.82 1148.97 L719.81 1147.28 L720.80 1145.60 L721.79 1143.95 L722.78 1142.31 L723.77 1140.69 L724.76 1139.08 L725.75 1137.49 L726.74 1135.92 L727.73 1134.37 L728.72 1132.84 L729.71 1131.32 L730.70 1129.82 L731.69 1128.34 L732.68 1126.88 L733.67 1125.43 L734.66 1124.00 L735.65 1122.59 L736.64 1121.19 L737.63 1119.81 L738.62 1118.45 L739.61 1117.11 L740.60 1115.78 L741.59 1114.47 L742.58 1113.18 L743.57 1111.90 L744.56 1110.64 L745.55 1109.39 L746.54 1108.16 L747.53 1106.95 L748.52 1105.76 L749.51 1104.58 L750.50 1103.41 L751.49 1102.26 L752.48 1101.13 L753.47 1100.01 L754.46 1098.91 L755.45 1097.82 L756.44 1096.75 L757.43 1095.69 L758.42 1094.65 L759.41 1093.62 L760.40 1092.61 L761.39 1091.61 L762.38 1090.63 L763.37 1089.66 L764.36 1088.70 L765.35 1087.76 L766.34 1086.83 L767.33 1085.92 L768.32 1085.01 L769.31 1084.13 L770.30 1083.25 L771.29 1082.39 L772.28 1081.54 L773.27 1080.70 L774.26 1079.88 L775.25 1079.07 L776.24 1078.27 L777.23 1077.48 L778.22 1076.71 L779.21 1075.95 L780.20 1075.20 L781.19 1074.46 L782.18 1073.73 L783.17 1073.01 L784.16 1072.31 L785.15 1071.61 L786.14 1070.93 L787.13 1070.26 L788.12 1069.59 L789.11 1068.94 L790.10 1068.30 L791.09 1067.67 L792.08 1067.05 L793.07 1066.44 L794.06 1065.84 L795.05 1065.25 L796.04 1064.66 L797.03 1064.09 L798.02 1063.53 L799.01 1062.97 L800.00 1062.43 L800.99 1061.89 L801.98 1061.37 L802.97 1060.85 L803.96 1060.34 L804.95 1059.84 L805.94 1059.34 L806.93 1058.86 L807.92 1058.38 L808.91 1057.91 L809.91 1057.45 L810.90 1057.00 L811.89 1056.55 L812.88 1056.11 L813.87 1055.68 L814.86 1055.26 L815.85 1054.84 L816.84 1054.43 L817.83 1054.03 L818.82 1053.63 L819.81 1053.24 L820.80 1052.86 L821.79 1052.48 L822.78 1052.11 L823.77 1051.75 L824.76 1051.39 L825.75 1051.04 L826.74 1050.70 L827.73 1050.36 L828.72 1050.02 L829.71 1049.70 L830.70 1049.37 L831.69 1049.06 L832.68 1048.75 L833.67 1048.44 L834.66 1048.14 L835.65 1047.85 L836.64 1047.56 L837.63 1047.27 L838.62 1046.99 L839.61 1046.72 L840.60 1046.44 L841.59 1046.18 L842.58 1045.92 L843.57 1045.66 L844.56 1045.41 L845.55 1045.16 L846.54 1044.92 L847.53 1044.68 L848.52 1044.45 L849.51 1044.22 L850.50 1043.99 L851.49 1043.77 L852.48 1043.55 L853.47 1043.33 L854.46 1043.12 L855.45 1042.92 L856.44 1042.71 L857.43 1042.51 L858.42 1042.32 L859.41 1042.12 L860.40 1041.93 L861.39 1041.75 L862.38 1041.56 L863.37 1041.39 L864.36 1041.21 L865.35 1041.04 L866.34 1040.87 L867.33 1040.70 L868.32 1040.54 L869.31 1040.37 L870.30 1040.22 L871.29 1040.06 L872.28 1039.91 L873.27 1039.76 L874.26 1039.61 L875.25 1039.47 L876.24 1039.32 L877.23 1039.18 L878.22 1039.05 L879.21 1038.91 L880.20 1038.78 L881.19 1038.65 L882.18 1038.52 L883.17 1038.40 L884.16 1038.28 L885.15 1038.16 L886.14 1038.04 L887.13 1037.92 L888.12 1037.81 L889.11 1037.70 L890.10 1037.59 L891.09 1037.48 L892.08 1037.37 L893.07 1037.27 L894.06 1037.16 L895.05 1037.06 L896.04 1036.97 L897.03 1036.87 L898.02 1036.77 L899.01 1036.68 L900.00 1036.59 L900.99 1036.50 L901.98 1036.41 L902.97 1036.32 L903.96 1036.24 L904.95 1036.15 L905.94 1036.07 L906.93 1035.99 L907.92 1035.91 L908.91 1035.84 L909.90 1035.76 L910.89 1035.68 L911.88 1035.61 L912.87 1035.54 L913.86 1035.47 L914.85 1035.40 L915.84 1035.33 L916.83 1035.26 L917.82 1035.20 L918.81 1035.13 L919.80 1035.07 L920.79 1035.01 L921.78 1034.94 L922.77 1034.88 L923.76 1034.83 L924.75 1034.77 L925.74 1034.71 L926.73 1034.66 L927.72 1034.60 L928.71 1034.55 L929.70 1034.49 L930.69 1034.44 L931.68 1034.39 L932.67 1034.34 L933.66 1034.29 L934.65 1034.24 L935.64 1034.20 L936.63 1034.15 L937.62 1034.10 L938.61 1034.06 L939.60 1034.02 L940.59 1033.97 L941.58 1033.93 L942.57 1033.89 L943.56 1033.85 L944.55 1033.81 L945.54 1033.77 L946.53 1033.73 L947.52 1033.69 L948.51 1033.66 L949.50 1033.62 L950.49 1033.58 L951.48 1033.55 L952.47 1033.51 L953.46 1033.48 L954.45 1033.45 L955.44 1033.41 L956.43 1033.38 L957.42 1033.35 L958.41 1033.32" fill="none" stroke="#0a0a0a" stroke-width="7" stroke-dasharray="24 17" stroke-dashoffset="4.36"/>
<path d="M413.10 1498.4 V1524.6 M405.80 1498.4 h14.6 M405.80 1524.6 h14.6 M471.21 1479.6 V1507.6 M463.91 1479.6 h14.6 M463.91 1507.6 h14.6 M534.90 1393.1 V1471.1 M527.60 1393.1 h14.6 M527.60 1471.1 h14.6 M593.01 1329.0 V1435.0 M585.71 1329.0 h14.6 M585.71 1435.0 h14.6 M656.70 1210.6 V1332.6 M649.40 1210.6 h14.6 M649.40 1332.6 h14.6 M714.81 1116.2 V1262.2 M707.51 1116.2 h14.6 M707.51 1262.2 h14.6 M778.50 1057.0 V1235.0 M771.20 1057.0 h14.6 M771.20 1235.0 h14.6 M836.61 1027.5 V1188.9 M829.31 1027.5 h14.6 M829.31 1188.9 h14.6 M900.30 1011.2 V1185.8 M893.00 1011.2 h14.6 M893.00 1185.8 h14.6 M958.41 981.0 V1152.6 M951.11 981.0 h14.6 M951.11 1152.6 h14.6" fill="none" stroke="#0a0a0a" stroke-width="5"/>
<circle cx="227.61" cy="1556.4" r="11.1" fill="#0a0a0a"/>
<circle cx="291.30" cy="1550.8" r="11.1" fill="#0a0a0a"/>
<circle cx="349.41" cy="1543.8" r="11.1" fill="#0a0a0a"/>
<circle cx="413.10" cy="1511.5" r="11.1" fill="#0a0a0a"/>
<circle cx="471.21" cy="1493.6" r="11.1" fill="#0a0a0a"/>
<circle cx="534.90" cy="1432.1" r="11.1" fill="#0a0a0a"/>
<circle cx="593.01" cy="1382.0" r="11.1" fill="#0a0a0a"/>
<circle cx="656.70" cy="1271.6" r="11.1" fill="#0a0a0a"/>
<circle cx="714.81" cy="1189.2" r="11.1" fill="#0a0a0a"/>
<circle cx="778.50" cy="1146.0" r="11.1" fill="#0a0a0a"/>
<circle cx="836.61" cy="1108.2" r="11.1" fill="#0a0a0a"/>
<circle cx="900.30" cy="1098.5" r="11.1" fill="#0a0a0a"/>
<circle cx="958.41" cy="1066.8" r="11.1" fill="#0a0a0a"/>
<text x="150.2" y="1566.4" font-size="32.5" text-anchor="end">0</text>
<text x="150.2" y="1456.9" font-size="32.5" text-anchor="end">50</text>
<text x="150.2" y="1347.4" font-size="32.5" text-anchor="end">100</text>
<text x="150.2" y="1237.9" font-size="32.5" text-anchor="end">150</text>
<text x="150.2" y="1128.3" font-size="32.5" text-anchor="end">200</text>
<text x="150.2" y="1018.8" font-size="32.5" text-anchor="end">250</text>
<text x="150.2" y="909.3" font-size="32.5" text-anchor="end">300</text>
<text x="167.8" y="1612.7" font-size="32" text-anchor="middle">10<tspan dy="-13.4" font-size="21">-5</tspan></text>
<text x="289.6" y="1612.7" font-size="32" text-anchor="middle">10<tspan dy="-13.4" font-size="21">-4</tspan></text>
<text x="411.4" y="1612.7" font-size="32" text-anchor="middle">10<tspan dy="-13.4" font-size="21">-3</tspan></text>
<text x="533.2" y="1612.7" font-size="32" text-anchor="middle">10<tspan dy="-13.4" font-size="21">-2</tspan></text>
<text x="655.0" y="1612.7" font-size="32" text-anchor="middle">10<tspan dy="-13.4" font-size="21">-1</tspan></text>
<text x="776.8" y="1612.7" font-size="32" text-anchor="middle">10<tspan dy="-13.4" font-size="21">0</tspan></text>
<text x="898.6" y="1612.7" font-size="32" text-anchor="middle">10<tspan dy="-13.4" font-size="21">1</tspan></text>
<text transform="translate(40.80 1539.60) rotate(-90)" font-size="41" textLength="615.00" lengthAdjust="spacing">relative current potentiation (%)</text>
</svg></body></html>
